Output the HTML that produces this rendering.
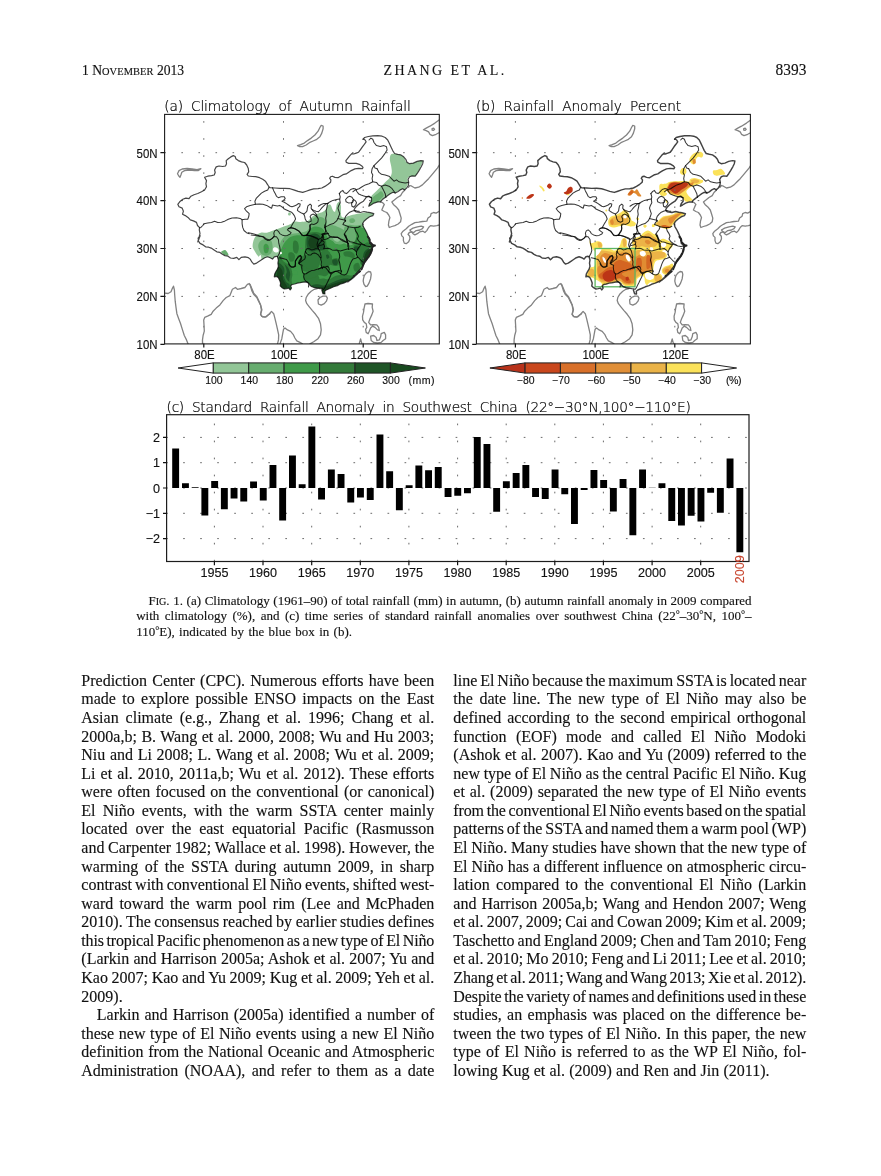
<!DOCTYPE html>
<html lang="en"><head><meta charset="utf-8">
<title>Zhang et al. 2013 - page 8393</title>
<style>
html,body{margin:0;padding:0;background:#fff;}
body{width:881px;height:1176px;position:relative;overflow:hidden;font-family:"Liberation Serif",serif;color:#111;}
.bl,.cl,.hd{position:absolute;white-space:nowrap;-webkit-text-stroke:0.14px #111;}
.bl{font-size:16.0px;line-height:20px;height:20px;}
.cl{font-size:13.0px;line-height:16px;height:16px;}
.hd{font-size:14.6px;line-height:18px;height:18px;}
.scs{font-size:0.78em;}
.dg{font-size:0.78em;vertical-align:0.18em;line-height:0;}
svg{position:absolute;left:0;top:0;}
svg text{font-family:"Liberation Sans",sans-serif;fill:#111;stroke:#111;stroke-width:0.14px;}
svg text.tt{font-family:"DejaVu Sans Light","DejaVu Sans","Liberation Sans",sans-serif;font-weight:200;font-size:13.7px;fill:#000;stroke:#000;stroke-width:0.22px;letter-spacing:-0.22px;word-spacing:4px;}
</style></head><body>
<div class="hd" id="h1" style="left:82px;top:61.71px;font-size:13.6px">1 N<span style="font-size:10.4px;letter-spacing:0.1px">OVEMBER</span> 2013</div>
<div class="hd" id="h2" style="left:383.6px;top:62.47px;font-size:14px;letter-spacing:2.4px;-webkit-text-stroke-width:0.1px">ZHANG ET AL.</div>
<div class="hd" id="h3" style="left:775.6px;top:61.30px;font-size:15.4px;transform:scaleY(1.09);transform-origin:0 14.20px">8393</div>
<svg width="881" height="1176" viewBox="0 0 881 1176">
<defs>
<filter id="blur" x="-5%" y="-5%" width="110%" height="110%"><feGaussianBlur stdDeviation="0.6"/></filter><filter id="blur2" x="-5%" y="-5%" width="110%" height="110%"><feGaussianBlur stdDeviation="0.35"/></filter>
<clipPath id="frameA"><rect x="164.6" y="114.4" width="274.7" height="229.5"/></clipPath>
<clipPath id="chinaclip"><path d="M199.6,227.7 L197.5,225.5 L196.5,222.4 L193.4,220.9 L190.3,219.9 L188.0,217.4 L185.3,215.6 L182.5,214.3 L183.4,211.2 L182.2,208.1 L179.0,206.8 L177.8,204.3 L179.7,201.8 L182.8,199.3 L185.9,198.1 L189.0,198.7 L190.9,196.2 L194.0,194.7 L197.8,193.5 L201.5,191.8 L204.6,190.0 L206.5,186.8 L205.9,183.7 L206.5,180.6 L204.6,177.2 L207.7,176.2 L211.5,175.6 L214.2,175.0 L215.2,172.5 L214.6,170.0 L216.2,166.9 L219.0,166.0 L222.7,166.5 L225.5,166.0 L226.5,163.7 L226.2,160.6 L228.3,158.7 L230.8,156.9 L233.3,155.6 L235.2,156.5 L235.8,158.7 L238.3,160.6 L241.5,161.9 L244.6,162.5 L246.7,165.0 L248.3,168.5 L248.7,171.9 L247.1,174.3 L248.3,176.0 L252.1,176.5 L255.8,176.7 L259.6,177.7 L262.7,179.3 L265.4,181.2 L267.4,184.3 L268.9,186.8 L270.0,187.7 L275.0,188.0 L280.0,188.4 L285.0,188.3 L290.0,188.7 L293.7,189.9 L298.1,191.4 L302.7,192.4 L306.2,191.2 L310.0,189.9 L313.7,188.9 L318.1,188.7 L321.8,188.0 L324.9,186.4 L328.1,184.3 L330.6,182.2 L330.9,179.9 L329.7,178.4 L330.6,176.8 L332.4,176.2 L334.9,177.4 L338.0,177.7 L340.5,176.2 L343.0,174.7 L346.2,173.9 L348.7,172.2 L351.2,170.6 L354.9,168.9 L358.6,168.4 L362.4,168.7 L363.0,167.4 L361.8,165.9 L359.3,164.3 L356.2,163.4 L352.4,163.4 L348.7,163.4 L346.2,162.2 L345.9,160.6 L347.7,158.4 L349.9,155.6 L351.8,153.7 L353.7,154.0 L356.2,153.1 L358.6,152.2 L360.5,149.7 L362.4,146.8 L364.3,144.3 L366.1,141.8 L365.1,140.0 L363.4,139.0 L363.0,139.3 L364.6,137.5 L368.4,136.5 L372.8,135.8 L377.8,135.6 L382.1,136.2 L385.2,137.5 L387.7,140.0 L389.2,143.1 L390.9,146.8 L392.7,150.6 L394.6,153.5 L397.7,154.3 L400.9,154.9 L403.7,156.8 L405.8,159.3 L407.1,162.4 L409.6,163.7 L413.3,163.1 L417.1,161.4 L420.8,160.6 L423.3,160.9 L422.7,163.7 L421.2,166.8 L419.0,170.6 L417.1,173.7 L415.2,176.2 L412.1,175.9 L409.6,176.8 L408.1,179.3 L408.7,182.4 L408.3,185.5 L406.7,188.0 L404.6,189.9 L402.7,188.7 L400.2,189.9 L397.7,191.8 L395.2,193.0 L393.0,192.2 L390.2,193.7 L387.7,195.5 L385.2,197.4 L382.7,199.3 L380.9,201.1 L380.9,201.9 L377.8,201.9 L374.0,203.1 L370.9,205.0 L368.8,206.2 L369.6,203.7 L371.5,201.2 L371.5,198.1 L369.0,196.2 L366.5,196.9 L365.3,198.7 L363.4,201.2 L360.3,203.1 L357.8,205.0 L355.3,207.5 L354.0,210.0 L355.9,211.9 L360.3,212.5 L364.0,211.5 L367.1,212.2 L370.3,212.7 L373.8,213.7 L372.8,215.6 L369.6,216.8 L366.5,219.0 L364.0,221.2 L362.5,223.7 L363.4,226.8 L365.3,230.0 L366.8,233.1 L368.4,236.8 L370.0,240.6 L369.6,243.1 L371.5,244.9 L372.8,246.2 L372.1,248.1 L371.5,249.9 L370.9,253.7 L369.0,256.8 L367.1,259.3 L365.3,261.8 L363.4,264.3 L362.1,266.8 L359.6,269.9 L357.2,272.4 L354.7,275.5 L352.2,278.0 L349.7,280.5 L347.8,282.0 L360.0,271.2 L356.8,274.4 L353.6,277.5 L350.5,280.0 L347.4,281.5 L343.6,283.1 L339.9,284.3 L337.4,285.6 L333.7,286.8 L329.9,288.5 L326.2,290.0 L324.7,291.2 L324.9,294.0 L323.0,293.7 L321.8,290.0 L322.4,288.9 L320.1,288.6 L317.4,288.1 L314.7,287.7 L312.0,286.8 L310.1,285.4 L309.2,283.6 L307.4,282.2 L305.6,281.8 L302.9,282.2 L300.2,282.7 L297.4,283.1 L294.7,284.0 L292.0,284.5 L290.6,285.9 L291.5,288.1 L290.2,289.9 L288.8,288.1 L286.5,288.6 L284.3,289.0 L282.0,287.7 L280.2,285.9 L280.6,283.1 L279.7,280.4 L278.4,277.7 L276.5,276.3 L274.3,276.8 L274.7,274.0 L276.1,271.3 L277.5,269.1 L278.4,266.3 L277.9,263.1 L278.4,260.0 L277.5,256.8 L276.5,256.3 L274.3,256.8 L272.5,259.1 L270.2,257.7 L267.5,256.8 L264.7,257.7 L262.0,259.5 L259.3,261.3 L256.6,263.1 L253.8,264.1 L252.0,262.2 L250.2,259.1 L248.4,257.7 L244.9,256.8 L241.2,257.4 L238.9,259.7 L236.8,257.4 L233.7,258.4 L230.5,258.0 L228.0,256.2 L224.9,255.6 L222.4,254.3 L219.9,252.4 L216.8,251.8 L213.7,249.7 L211.2,248.1 L208.7,247.2 L205.6,246.8 L203.1,244.9 L200.0,243.4 L198.7,241.2 L198.1,238.1 L200.2,235.6 L197.8,242.0 L199.0,237.4 L200.0,233.7 L199.3,229.9Z"/></clipPath>
<g id="coast" stroke="#828282" stroke-width="1.3"><path d="M200.9,168.7 L197.1,169.7 L192.1,169.0 L187.1,168.5 L182.2,169.0 L179.0,170.6 L177.5,173.7 L178.8,176.0 L180.0,177.2 L180.9,175.0 L181.8,172.2 L184.6,170.6 L189.6,170.0 L194.6,170.6 L198.4,170.6 L200.9,168.7"/><path d="M297.5,145.6 L300.6,144.7 L304.3,143.1 L307.5,140.6 L311.2,138.1 L314.9,135.0 L318.1,131.2 L319.9,127.5 L321.2,125.4 L323.1,126.0 L323.1,128.7 L321.8,133.1 L319.9,136.8 L316.8,139.3 L313.1,141.0 L309.3,142.7 L306.2,145.0 L302.5,146.6 L299.3,146.5 L297.5,145.6"/><path d="M439.5,119.7 L434.9,123.1 L429.9,126.2 L426.2,128.1 L423.4,129.7 L426.2,130.6 L428.6,131.9 L429.9,134.3 L432.4,135.6 L436.1,134.3 L439.5,132.5"/><path d="M432.1,128.7 L433.6,128.2 L434.6,129.4 L433.6,130.4 L432.1,130.0 L432.1,128.7"/><path d="M439.5,164.9 L437.4,168.1 L434.9,171.2 L431.8,174.9 L428.6,178.7 L425.5,181.8 L422.4,184.9 L418.7,187.2 L414.9,188.0 L411.8,186.2 L409.9,185.5 L408.4,187.2"/><path d="M404.9,190.0 L402.4,192.5 L400.6,195.6 L397.4,197.5 L394.3,200.0 L391.8,201.9 L393.4,204.4 L396.2,206.9 L398.7,210.0 L399.9,213.7 L401.2,218.1 L400.6,221.8 L398.1,224.0 L394.9,225.6 L391.8,226.5 L389.3,227.5 L388.4,225.0 L388.9,221.2 L389.9,217.5 L388.7,215.0 L386.8,212.5 L384.3,211.5 L381.8,210.0 L383.1,206.9 L384.3,204.4 L382.4,202.5 L380.6,201.9"/><path d="M439.3,211.2 L436.1,213.1 L433.6,212.5 L431.1,213.7 L430.5,216.2 L428.0,218.1 L426.8,221.2 L422.4,221.5 L418.7,222.2 L414.9,222.7 L411.8,224.3 L408.7,226.2 L406.2,228.7 L403.0,231.2 L401.2,233.7 L401.8,235.9 L403.4,237.4 L403.4,240.6 L404.3,243.1 L406.2,243.7 L408.7,241.8 L409.9,238.7 L409.7,236.2 L408.0,234.3 L409.3,232.5 L411.8,231.8 L413.0,233.7 L414.9,234.9 L417.4,233.7 L419.9,231.8 L423.0,231.2 L424.9,232.5 L426.8,230.6 L428.6,227.5 L430.5,225.6 L433.6,226.2 L436.8,225.6 L439.3,225.0"/><path d="M409.9,230.0 L413.0,228.1 L417.4,226.8 L421.2,226.2 L423.6,226.8 L422.4,228.7 L419.9,230.0 L416.2,230.6 L413.7,232.5 L411.4,231.8 L409.9,230.0"/><path d="M363.5,278.7 L364.3,275.6 L366.2,273.1 L368.5,271.5 L370.6,271.9 L371.2,274.4 L370.6,278.7 L369.0,283.1 L367.2,286.2 L365.6,286.5 L364.0,284.3 L363.2,281.2 L363.5,278.7"/><path d="M365.0,304.0 L368.1,303.5 L372.5,304.0 L372.2,307.4 L373.1,311.2 L371.8,314.9 L370.0,318.7 L368.7,322.4 L370.6,324.9 L373.7,324.7 L376.8,324.9 L378.7,327.4 L379.3,330.5 L377.5,329.9 L375.0,327.4 L372.5,326.2 L370.6,328.0 L369.3,331.2 L368.1,333.7 L366.2,332.4 L365.6,329.3 L366.8,327.4 L366.2,323.7 L364.3,322.4 L362.7,319.9 L362.5,316.2 L363.5,312.4 L364.0,308.7 L365.0,304.0"/><path d="M370.6,336.2 L373.7,335.5 L376.2,337.4 L376.8,340.5 L379.3,339.9 L380.6,336.8 L381.2,333.7 L384.3,332.4 L385.6,334.9 L385.6,338.7 L383.1,340.5 L381.2,342.4 L377.5,343.0 L373.7,342.4 L371.2,340.5 L370.6,336.2"/><path d="M359.3,343.4 L360.6,338.9 L361.8,343.4"/><path d="M165.0,293.1 L168.1,293.5 L171.0,291.8 L172.5,288.1 L173.5,286.2 L174.4,290.0 L174.7,295.0 L175.2,301.2 L176.0,307.4 L176.9,313.7 L178.7,318.7 L180.6,323.7 L182.5,329.9 L184.3,335.5 L186.5,339.9 L188.1,343.9"/><path d="M202.5,343.9 L202.5,339.9 L203.1,335.5 L204.3,331.2 L204.0,324.9 L203.7,319.9 L204.7,317.4 L208.1,315.9 L211.2,314.3 L213.1,311.2 L216.2,308.1 L219.9,304.9 L223.1,300.6 L226.2,297.5 L229.9,295.6 L231.4,291.8 L232.4,289.3 L235.5,287.5 L237.4,289.3 L241.2,288.5 L244.9,287.5 L247.4,284.3 L249.3,283.5 L250.5,286.2 L251.8,290.6 L253.6,294.3 L256.8,297.5 L258.6,301.2 L260.5,304.9 L261.4,309.9 L260.5,314.3 L261.8,316.4 L264.9,317.2 L267.4,315.6 L270.0,313.7"/><path d="M250.0,284.3 L251.9,288.7 L253.7,293.1 L256.9,296.8 L258.7,300.6 L260.6,304.9 L261.9,309.9 L260.6,314.3 L262.5,316.8 L266.2,316.8 L269.4,313.7 L271.5,311.4 L273.7,313.7 L275.0,318.7 L276.2,323.7 L277.5,329.3 L278.7,334.9 L278.5,339.9 L277.5,343.9"/><path d="M280.0,343.9 L281.8,338.7 L282.7,333.7 L283.5,329.3 L285.0,328.0 L287.5,329.9 L290.6,331.4 L293.1,334.3 L294.9,338.0 L296.8,340.9 L299.9,342.4 L302.4,343.9"/><path d="M309.9,343.9 L313.7,341.8 L318.0,338.7 L320.5,334.9 L321.2,329.9 L320.5,323.7 L318.7,318.7 L315.6,314.3 L312.4,310.6 L309.3,306.8 L306.8,303.7 L305.6,300.6 L306.2,297.5 L308.1,294.3 L311.2,291.2 L314.3,289.3 L317.4,288.5"/><path d="M318.0,300.0 L319.9,297.5 L323.0,296.2 L326.2,296.2 L327.4,298.1 L326.4,301.2 L324.3,303.7 L321.2,305.2 L318.4,304.0 L318.0,300.0"/></g>
<g id="prov"><path d="M268.9,187.5 L267.7,190.0 L264.6,191.2 L261.4,193.1 L258.9,195.6 L256.4,198.1 L254.9,201.2 L255.4,204.3 L250.2,205.6 L246.5,206.8 L244.6,208.7 L246.5,211.2 L249.2,213.7 L248.7,216.8 L247.7,219.3 L245.0,219.3 L242.1,219.7 L240.2,218.4 L236.5,217.7 L232.1,218.0 L228.3,219.3 L225.2,220.9 L221.5,222.2 L217.7,222.4 L214.6,221.2 L211.5,222.4 L207.7,223.0 L204.0,223.7 L202.8,225.5 L200.9,227.4 L199.6,227.7"/><path d="M242.1,219.7 L242.1,223.7 L242.7,227.4 L244.0,230.5 L246.5,232.7 L249.2,233.7"/><path d="M255.2,204.3 L259.3,204.1 L262.9,204.3 L266.6,205.4 L269.7,207.2 L271.6,208.3 L272.5,205.0 L274.7,205.4 L277.5,205.9 L279.7,205.4 L282.5,207.2 L284.3,209.1 L286.5,210.0 L289.3,211.3 L291.5,212.2 L293.3,214.1 L294.7,216.3 L295.6,219.0 L294.3,221.3 L292.9,223.6 L291.5,225.9 L290.6,227.7 L288.4,228.6 L287.4,229.9 L289.3,231.3 L291.1,232.7 L290.2,234.0 L287.4,235.4 L284.7,235.8 L282.0,234.9 L279.7,233.6 L278.4,231.3 L276.5,229.9 L274.7,230.9 L273.8,233.1 L274.3,235.8 L272.5,238.1 L270.2,239.9 L267.5,240.4 L265.2,239.0 L262.9,236.8 L259.3,235.8 L255.7,234.5 L252.0,233.6 L248.4,232.7"/><path d="M272.5,187.7 L273.8,190.9 L275.2,193.6 L276.5,196.3 L278.4,197.7 L281.1,196.8 L284.3,196.8 L285.2,198.6 L283.4,200.4 L282.0,201.3 L284.3,202.2 L286.5,203.6 L288.4,205.0 L290.2,206.3 L292.0,206.8 L294.3,205.9 L296.5,205.0 L298.3,203.6 L300.2,204.1 L299.7,206.3 L297.9,208.1 L297.4,210.4 L299.3,211.8 L301.5,213.1 L303.8,214.1 L305.6,212.7 L307.0,210.9 L307.4,208.1 L307.9,205.9 L310.1,204.1 L311.5,205.4 L311.1,208.1 L312.0,209.5 L313.8,210.4 L316.1,211.3 L318.3,211.8 L320.1,210.0 L322.0,207.7 L323.8,205.9 L325.6,204.1 L328.4,203.2"/><path d="M303.8,214.1 L304.7,216.3 L305.2,219.0 L306.5,221.3 L308.8,222.2 L311.1,221.3 L311.1,219.0 L310.1,216.8 L311.1,215.0 L312.9,214.1 L315.1,215.0 L317.0,216.8 L318.3,219.0 L317.9,221.8 L316.1,223.6 L313.8,224.5 L311.5,224.0 L309.7,224.9 L310.1,227.2 L310.0,229.9 L308.3,232.2 L307.4,234.5 L306.5,235.4"/><path d="M312.0,209.5 L313.3,211.3 L315.1,212.7 L316.5,214.5 L317.0,216.8"/><path d="M290.6,227.7 L292.9,228.1 L295.6,229.0 L298.3,230.9 L300.6,233.1 L302.0,235.4 L304.7,235.8 L307.4,234.9 L310.1,235.8 L312.9,236.8 L315.6,238.1 L318.3,239.5 L321.0,238.1 L322.9,235.4 L324.7,234.0 L328.4,233.6"/><path d="M339.3,193.6 L341.1,191.4 L342.9,190.4 L344.3,192.7 L346.5,193.6 L348.4,191.8 L350.6,189.5 L353.4,188.6 L355.6,189.1 L357.0,191.8 L358.8,194.1 L361.1,195.0 L363.8,195.9 L366.5,196.8 L369.3,196.8 L371.5,197.7"/><path d="M345.6,199.5 L347.5,197.3 L349.7,196.3 L352.0,197.3 L353.4,199.5 L352.9,201.8 L351.1,202.7 L348.4,202.9 L346.1,201.8 L345.6,199.5"/><path d="M353.4,199.5 L355.6,200.9 L356.5,202.7 L355.6,205.0 L353.8,207.2 L352.0,206.3 L351.5,203.6 L352.9,201.8"/><path d="M339.3,193.6 L340.2,196.8 L339.7,199.5 L340.2,202.7 L338.8,205.4 L337.9,208.1 L338.8,210.9 L339.7,213.6 L338.8,216.3 L337.9,218.6 L339.7,219.0 L342.0,219.5 L344.3,220.0 L345.6,220.9"/><path d="M345.6,220.9 L344.7,219.0 L345.6,216.3 L347.5,214.1 L349.7,212.2 L352.5,210.9 L355.2,210.4 L357.4,211.3 L359.3,211.3"/><path d="M327.5,203.6 L327.0,207.2 L326.1,210.9 L326.6,214.5 L325.7,218.1 L326.1,221.8 L325.2,225.4 L324.8,227.2"/><path d="M324.8,227.2 L327.5,225.9 L330.2,224.5 L333.4,223.6 L336.6,220.9 L337.9,218.6"/><path d="M318.4,206.3 L321.1,204.5 L323.8,203.6 L327.5,203.4 L330.2,201.8 L332.9,200.4 L336.6,199.5 L339.7,199.1"/><path d="M345.6,220.9 L343.8,222.7 L342.9,224.5 L345.6,225.4 L348.4,226.8 L351.1,227.2 L354.7,227.7 L358.4,227.2 L360.2,226.3"/><path d="M324.8,227.2 L325.7,230.9 L324.8,233.6 L322.0,234.5 L323.8,237.2 L322.9,239.9 L321.1,241.7 L319.3,243.6 L318.4,245.4"/><path d="M348.4,226.8 L347.5,229.5 L345.6,231.8 L344.3,234.5 L345.6,236.3 L346.5,239.0 L347.5,242.7 L347.9,247.0"/><path d="M354.7,227.7 L355.6,230.9 L357.4,233.6 L358.4,236.3 L357.4,239.0 L359.3,241.7 L362.0,243.6 L364.7,244.9"/><path d="M322.9,239.9 L326.6,239.0 L330.2,237.2 L333.8,236.8 L337.5,237.2 L340.2,238.6 L342.9,239.9 L345.6,241.7 L347.5,242.7"/><path d="M356.5,254.5 L357.9,257.2 L355.6,258.2 L352.9,259.1 L351.5,261.3 L350.2,264.1 L349.3,266.8 L348.4,269.5 L347.5,272.2 L346.5,274.0 L344.3,275.0 L342.0,274.5 L340.6,273.6"/><path d="M337.9,250.9 L339.3,253.6 L339.7,256.8 L338.8,260.0 L339.7,263.1 L340.2,266.3 L340.6,269.5 L341.6,271.3 L340.6,273.6"/><path d="M348.4,249.3 L349.7,249.1 L352.5,248.6 L354.7,250.0 L356.5,251.8 L356.5,254.5"/><path d="M348.4,243.4 L348.8,246.4 L348.4,249.3"/><path d="M345.6,235.0 L346.5,237.7 L347.9,240.4 L350.2,241.8 L352.9,242.3 L355.6,243.2 L358.4,244.1 L361.1,244.1 L359.7,246.4 L357.9,248.6 L356.5,251.8"/><path d="M361.1,244.1 L363.8,245.0 L366.5,245.9 L369.3,246.4 L372.0,245.9"/><path d="M357.9,257.2 L360.2,259.5 L362.0,261.3 L363.8,262.7"/><path d="M340.6,273.6 L337.9,271.8 L335.2,271.3 L332.9,272.7 L331.1,274.0 L329.3,272.7 L327.9,270.4 L326.1,268.1 L323.8,266.8 L321.1,267.7 L318.4,269.1"/><path d="M331.1,274.0 L330.2,276.8 L328.8,279.5 L327.5,282.2 L326.1,284.9 L324.8,287.7 L323.4,289.5"/><path d="M251.1,235.0 L255.7,235.5 L260.2,236.4 L263.8,236.8 L266.6,239.1 L269.3,240.0 L272.0,238.6 L274.3,236.4 L276.5,236.8 L278.4,239.5 L278.8,243.2 L279.7,246.8 L280.2,250.4 L279.3,253.6 L277.5,256.8"/><path d="M279.7,257.7 L282.0,258.2 L284.7,259.1 L286.5,259.5 L288.4,262.2 L289.7,265.0 L291.1,266.8 L293.3,267.2 L295.6,266.3 L295.2,263.6 L295.6,260.9 L297.0,258.6 L298.3,256.3 L300.6,255.4 L301.5,257.2 L301.1,260.0 L299.7,262.2 L299.3,264.1"/><path d="M369.0,140.0 L370.9,138.1 L372.8,139.3 L374.0,142.5 L376.5,145.6 L380.2,146.5 L384.0,145.6 L386.5,146.8 L387.1,150.0 L385.2,153.1 L383.4,155.6 L381.5,158.1 L379.0,160.6 L376.5,163.1 L374.0,165.6 L375.0,168.1 L377.1,168.7"/><path d="M374.0,165.6 L372.1,168.7 L371.5,172.4 L372.8,174.9 L372.1,178.7 L372.8,181.8 L376.5,182.4 L378.4,184.9 L381.5,186.2 L383.4,189.9 L385.2,193.7 L385.9,197.4"/><path d="M377.1,168.7 L379.0,172.4 L381.5,174.3 L385.2,174.9 L389.0,176.2 L391.5,178.7 L394.0,181.2 L396.5,179.9 L399.0,181.8 L402.1,182.4 L405.2,183.0 L408.3,182.4"/><path d="M381.5,186.2 L385.2,184.9 L389.0,186.2 L392.1,188.7 L395.2,193.0"/><path d="M372.8,181.8 L369.0,183.7 L365.3,184.9 L362.1,186.8 L359.0,188.7 L355.3,189.9 L352.8,191.8"/><path d="M288.4,228.4 L291.1,227.7 L293.8,228.4 L296.6,229.8 L299.3,231.1 L301.0,233.9 L303.4,235.6 L306.4,235.2 L308.8,235.6 L311.6,235.9 L314.3,236.9 L317.0,237.9 L318.4,239.3 L317.7,242.0 L317.0,244.8 L317.7,246.8 L318.4,248.8"/><path d="M306.4,235.2 L308.2,233.2 L309.5,231.5 L310.2,228.4 L309.9,226.4 L310.5,225.0"/><path d="M324.8,225.0 L325.2,226.4 L325.5,229.1 L326.5,231.8 L327.9,233.5 L325.9,233.9 L323.8,233.5 L321.8,233.9 L323.1,235.6 L322.5,237.3 L321.8,239.0 L321.1,240.3 L322.5,241.0 L324.2,242.0 L323.8,244.1 L321.8,245.1 L319.7,245.4 L318.4,246.1 L317.7,246.8"/><path d="M323.8,248.8 L325.9,248.5 L327.9,248.2 L329.9,248.8 L332.0,249.9 L334.7,250.2 L336.8,249.9 L338.1,250.5 L340.2,250.9 L342.9,250.2 L345.6,249.5 L348.4,248.8"/><path d="M323.8,244.1 L324.5,246.1 L323.8,248.8"/><path d="M329.3,235.9 L332.0,236.9 L334.7,237.6 L337.4,237.3 L339.1,238.3 L340.8,239.6 L342.9,241.0 L344.9,241.7 L347.0,242.0 L348.4,243.4"/><path d="M327.9,233.5 L329.3,235.9"/><path d="M344.2,233.9 L344.9,235.9 L346.3,237.9 L347.0,240.7 L347.7,242.0"/><path d="M318.4,248.8 L319.7,250.9 L320.4,253.6 L321.1,256.3 L320.7,259.1 L321.4,261.8 L321.1,264.5 L321.8,267.2 L322.5,268.6"/><path d="M305.4,251.6 L306.1,249.5 L307.5,248.5 L309.5,248.8 L311.6,249.9 L313.6,249.5 L315.6,248.8 L318.4,248.8"/><path d="M305.4,251.6 L306.8,253.6 L308.8,255.0 L310.9,255.0 L312.2,253.6 L314.3,252.9 L316.3,253.6 L318.4,255.0 L319.7,257.0 L321.0,257.7"/><path d="M288.4,263.8 L289.8,265.9 L291.8,267.2 L294.5,266.5 L295.6,263.8 L295.2,261.1 L296.6,259.1 L298.6,257.0 L300.3,255.6 L301.3,257.0 L300.7,259.1 L299.3,261.1 L298.6,263.1 L300.0,264.5 L302.0,265.2 L301.7,267.2 L302.0,269.9 L302.7,272.7 L304.1,274.0 L306.1,273.7 L308.8,272.0 L311.6,270.6 L314.3,270.3 L317.0,269.3 L319.7,268.6 L322.5,267.6 L325.2,266.9 L327.2,266.2 L328.6,267.2 L329.3,269.3 L328.6,271.3 L330.6,272.7 L333.3,272.0 L336.1,271.3 L338.8,270.6 L341.5,271.3"/><path d="M298.6,263.1 L300.7,262.1 L302.7,260.4 L304.7,259.1 L305.4,257.0 L304.7,254.3 L305.4,251.6"/><path d="M304.1,274.0 L303.7,276.8 L304.4,279.5 L306.1,281.5 L308.2,282.9 L308.8,284.9 L308.5,287.0"/></g>
<g id="china"><path d="M199.6,227.7 L197.5,225.5 L196.5,222.4 L193.4,220.9 L190.3,219.9 L188.0,217.4 L185.3,215.6 L182.5,214.3 L183.4,211.2 L182.2,208.1 L179.0,206.8 L177.8,204.3 L179.7,201.8 L182.8,199.3 L185.9,198.1 L189.0,198.7 L190.9,196.2 L194.0,194.7 L197.8,193.5 L201.5,191.8 L204.6,190.0 L206.5,186.8 L205.9,183.7 L206.5,180.6 L204.6,177.2 L207.7,176.2 L211.5,175.6 L214.2,175.0 L215.2,172.5 L214.6,170.0 L216.2,166.9 L219.0,166.0 L222.7,166.5 L225.5,166.0 L226.5,163.7 L226.2,160.6 L228.3,158.7 L230.8,156.9 L233.3,155.6 L235.2,156.5 L235.8,158.7 L238.3,160.6 L241.5,161.9 L244.6,162.5 L246.7,165.0 L248.3,168.5 L248.7,171.9 L247.1,174.3 L248.3,176.0 L252.1,176.5 L255.8,176.7 L259.6,177.7 L262.7,179.3 L265.4,181.2 L267.4,184.3 L268.9,186.8 L270.0,187.7 L275.0,188.0 L280.0,188.4 L285.0,188.3 L290.0,188.7 L293.7,189.9 L298.1,191.4 L302.7,192.4 L306.2,191.2 L310.0,189.9 L313.7,188.9 L318.1,188.7 L321.8,188.0 L324.9,186.4 L328.1,184.3 L330.6,182.2 L330.9,179.9 L329.7,178.4 L330.6,176.8 L332.4,176.2 L334.9,177.4 L338.0,177.7 L340.5,176.2 L343.0,174.7 L346.2,173.9 L348.7,172.2 L351.2,170.6 L354.9,168.9 L358.6,168.4 L362.4,168.7 L363.0,167.4 L361.8,165.9 L359.3,164.3 L356.2,163.4 L352.4,163.4 L348.7,163.4 L346.2,162.2 L345.9,160.6 L347.7,158.4 L349.9,155.6 L351.8,153.7 L353.7,154.0 L356.2,153.1 L358.6,152.2 L360.5,149.7 L362.4,146.8 L364.3,144.3 L366.1,141.8 L365.1,140.0 L363.4,139.0 L363.0,139.3 L364.6,137.5 L368.4,136.5 L372.8,135.8 L377.8,135.6 L382.1,136.2 L385.2,137.5 L387.7,140.0 L389.2,143.1 L390.9,146.8 L392.7,150.6 L394.6,153.5 L397.7,154.3 L400.9,154.9 L403.7,156.8 L405.8,159.3 L407.1,162.4 L409.6,163.7 L413.3,163.1 L417.1,161.4 L420.8,160.6 L423.3,160.9 L422.7,163.7 L421.2,166.8 L419.0,170.6 L417.1,173.7 L415.2,176.2 L412.1,175.9 L409.6,176.8 L408.1,179.3 L408.7,182.4 L408.3,185.5 L406.7,188.0 L404.6,189.9 L402.7,188.7 L400.2,189.9 L397.7,191.8 L395.2,193.0 L393.0,192.2 L390.2,193.7 L387.7,195.5 L385.2,197.4 L382.7,199.3 L380.9,201.1 L380.9,201.9 L377.8,201.9 L374.0,203.1 L370.9,205.0 L368.8,206.2 L369.6,203.7 L371.5,201.2 L371.5,198.1 L369.0,196.2 L366.5,196.9 L365.3,198.7 L363.4,201.2 L360.3,203.1 L357.8,205.0 L355.3,207.5 L354.0,210.0 L355.9,211.9 L360.3,212.5 L364.0,211.5 L367.1,212.2 L370.3,212.7 L373.8,213.7 L372.8,215.6 L369.6,216.8 L366.5,219.0 L364.0,221.2 L362.5,223.7 L363.4,226.8 L365.3,230.0 L366.8,233.1 L368.4,236.8 L370.0,240.6 L369.6,243.1 L371.5,244.9 L372.8,246.2 L372.1,248.1 L371.5,249.9 L370.9,253.7 L369.0,256.8 L367.1,259.3 L365.3,261.8 L363.4,264.3 L362.1,266.8 L359.6,269.9 L357.2,272.4 L354.7,275.5 L352.2,278.0 L349.7,280.5 L347.8,282.0 L360.0,271.2 L356.8,274.4 L353.6,277.5 L350.5,280.0 L347.4,281.5 L343.6,283.1 L339.9,284.3 L337.4,285.6 L333.7,286.8 L329.9,288.5 L326.2,290.0 L324.7,291.2 L324.9,294.0 L323.0,293.7 L321.8,290.0 L322.4,288.9 L320.1,288.6 L317.4,288.1 L314.7,287.7 L312.0,286.8 L310.1,285.4 L309.2,283.6 L307.4,282.2 L305.6,281.8 L302.9,282.2 L300.2,282.7 L297.4,283.1 L294.7,284.0 L292.0,284.5 L290.6,285.9 L291.5,288.1 L290.2,289.9 L288.8,288.1 L286.5,288.6 L284.3,289.0 L282.0,287.7 L280.2,285.9 L280.6,283.1 L279.7,280.4 L278.4,277.7 L276.5,276.3 L274.3,276.8 L274.7,274.0 L276.1,271.3 L277.5,269.1 L278.4,266.3 L277.9,263.1 L278.4,260.0 L277.5,256.8 L276.5,256.3 L274.3,256.8 L272.5,259.1 L270.2,257.7 L267.5,256.8 L264.7,257.7 L262.0,259.5 L259.3,261.3 L256.6,263.1 L253.8,264.1 L252.0,262.2 L250.2,259.1 L248.4,257.7 L244.9,256.8 L241.2,257.4 L238.9,259.7 L236.8,257.4 L233.7,258.4 L230.5,258.0 L228.0,256.2 L224.9,255.6 L222.4,254.3 L219.9,252.4 L216.8,251.8 L213.7,249.7 L211.2,248.1 L208.7,247.2 L205.6,246.8 L203.1,244.9 L200.0,243.4 L198.7,241.2 L198.1,238.1 L200.2,235.6 L197.8,242.0 L199.0,237.4 L200.0,233.7 L199.3,229.9Z"/></g>
</defs>
<g id="panel-a">
<g clip-path="url(#frameA)">
<g clip-path="url(#chinaclip)"><g filter="url(#blur)"><path d="M252.7,247.0C252.4,245.1 253.0,242.5 253.5,240.6C254.0,238.8 254.7,237.2 255.9,235.9C257.1,234.5 258.8,233.2 260.7,232.7C262.5,232.1 265.2,232.9 267.0,232.7C268.9,232.4 269.9,231.7 271.8,231.1C273.6,230.4 276.0,229.5 278.1,228.7C280.3,227.9 282.4,227.1 284.5,226.3C286.6,225.5 289.3,224.7 290.9,223.9C292.4,223.1 292.4,221.9 294.0,221.5C295.6,221.2 298.3,221.9 300.4,221.9C302.5,221.8 305.2,221.7 306.7,221.2C308.3,220.8 308.9,220.0 309.9,219.2C311.0,218.3 311.8,216.9 313.1,216.0C314.4,215.1 316.3,214.3 317.9,213.6C319.5,212.9 321.2,212.8 322.6,212.0C324.1,211.2 325.8,209.9 326.6,208.8C327.4,207.8 326.7,206.3 327.4,205.7C328.1,205.0 329.7,204.1 330.6,204.9C331.5,205.7 332.2,209.4 333.0,210.4C333.8,211.5 334.7,212.3 335.3,211.2C336.0,210.2 336.3,205.7 336.9,204.1C337.6,202.5 338.7,201.4 339.3,201.7C340.0,202.0 340.6,203.9 340.9,205.7C341.2,207.4 340.8,210.2 340.9,212.0C341.0,213.9 341.0,215.9 341.7,216.8C342.4,217.7 343.8,217.7 344.9,217.6C345.9,217.4 346.5,216.5 348.1,216.0C349.6,215.5 352.3,214.8 354.4,214.4C356.5,213.9 358.7,213.6 360.8,213.3C362.9,212.9 365.0,212.5 367.1,212.3C369.2,212.2 370.8,212.3 373.5,212.3C376.1,212.3 381.4,195.7 383.0,212.3C384.6,229.0 403.3,295.5 383.0,312.1C362.8,328.8 281.7,320.9 261.5,312.1C241.2,303.4 262.0,269.0 261.5,259.7C260.9,250.4 259.3,257.8 258.3,256.5C257.2,255.2 256.0,253.3 255.1,251.7C254.2,250.2 253.0,248.8 252.7,247.0Z" fill="#93c698"/><path d="M288.1,213.7C288.2,213.2 288.9,212.3 289.3,212.2C289.8,212.2 290.8,213.0 291.0,213.5C291.1,214.0 290.6,215.1 290.2,215.3C289.8,215.6 288.8,215.5 288.5,215.2C288.1,215.0 287.9,214.2 288.1,213.7Z" fill="#93c698"/><path d="M390.6,154.9C391.2,153.9 392.4,153.7 393.9,153.7C395.5,153.7 398.3,154.2 399.9,154.7C401.6,155.2 402.5,155.5 403.7,156.8C404.8,158.1 405.2,161.4 406.8,162.4C408.4,163.5 410.9,163.4 413.0,163.1C415.2,162.8 418.2,161.0 419.9,160.6C421.6,160.2 422.9,159.5 423.0,160.6C423.1,161.6 421.8,164.2 420.5,166.8C419.3,169.4 417.4,174.5 415.5,176.2C413.7,177.8 410.6,176.3 409.3,176.8C407.9,177.3 407.6,178.4 407.4,179.3C407.2,180.2 408.2,181.3 408.0,182.4C407.9,183.6 407.5,184.8 406.8,186.2C406.1,187.5 405.0,189.8 403.7,190.5C402.3,191.3 400.3,190.0 398.7,190.5C397.0,191.1 395.4,192.9 393.7,193.7C392.0,194.4 390.4,194.1 388.7,194.9C387.0,195.7 385.4,197.3 383.7,198.6C382.0,200.0 380.2,201.4 378.7,203.0C377.2,204.7 376.6,207.7 375.0,208.6C373.3,209.6 369.8,209.7 368.7,208.6C367.7,207.5 368.3,204.1 368.7,202.0C369.1,199.9 370.0,198.0 371.2,196.2C372.5,194.3 374.5,192.8 376.2,191.2C377.9,189.5 379.5,187.8 381.2,186.2C382.9,184.5 384.7,182.6 386.2,181.2C387.7,179.7 389.0,178.9 389.9,177.4C390.9,176.0 391.6,174.3 391.8,172.4C392.0,170.6 391.5,168.3 391.2,166.2C390.9,164.1 390.0,161.8 389.9,159.9C389.8,158.1 389.9,156.0 390.6,154.9Z" fill="#93c698"/><path d="M368.7,202.0C369.2,200.6 371.0,198.8 372.5,197.4C373.9,196.0 376.0,194.7 377.5,193.7C378.9,192.6 380.2,190.9 381.2,191.2C382.2,191.4 383.7,193.7 383.7,194.9C383.7,196.2 382.2,197.4 381.2,198.6C380.2,199.9 378.7,201.1 377.5,202.4C376.2,203.6 375.1,205.5 373.7,206.1C372.4,206.8 370.2,206.8 369.3,206.1C368.5,205.5 368.2,203.5 368.7,202.0Z" fill="#69ae70"/><path d="M221.2,251.8C221.6,251.2 223.9,249.8 224.9,249.9C226.0,250.0 226.8,251.6 227.4,252.4C228.0,253.3 228.8,254.7 228.4,255.2C228.0,255.7 225.9,255.7 224.9,255.4C223.9,255.1 223.1,254.0 222.4,253.4C221.8,252.8 220.8,252.4 221.2,251.8Z" fill="#69ae70"/><path d="M258.3,247.0C258.0,244.9 258.7,242.7 259.9,241.4C261.1,240.1 263.6,239.2 265.4,239.0C267.3,238.9 269.8,239.3 271.0,240.6C272.2,241.9 272.6,244.9 272.6,247.0C272.6,249.1 272.0,251.9 271.0,253.3C269.9,254.8 267.8,255.6 266.2,255.7C264.6,255.8 262.8,255.6 261.5,254.1C260.1,252.7 258.5,249.1 258.3,247.0Z" fill="#69ae70"/><path d="M279.7,254.9C279.7,244.3 279.3,250.7 279.4,248.6C279.5,246.4 279.8,244.1 280.5,242.2C281.2,240.4 282.5,238.6 283.7,237.4C284.9,236.2 286.0,235.7 287.7,235.1C289.4,234.4 291.9,233.9 294.0,233.5C296.1,233.1 298.3,233.1 300.4,232.7C302.5,232.3 305.2,232.1 306.7,231.1C308.3,230.0 309.1,228.0 309.9,226.3C310.7,224.6 310.7,222.2 311.5,220.8C312.3,219.3 313.4,218.2 314.7,217.6C316.0,216.9 317.9,216.6 319.5,216.8C321.0,216.9 323.0,217.3 324.2,218.4C325.4,219.4 326.1,221.5 326.6,223.1C327.1,224.7 326.4,226.6 327.1,227.9C327.7,229.2 328.9,230.3 330.6,231.1C332.2,231.9 334.8,232.7 336.9,232.7C339.1,232.7 342.0,232.1 343.3,231.1C344.6,230.0 343.8,227.4 344.9,226.3C345.9,225.3 347.8,224.9 349.6,224.7C351.5,224.6 354.2,225.5 356.0,225.5C357.9,225.5 358.9,225.1 360.8,224.7C362.6,224.3 365.0,223.1 367.1,223.1C369.2,223.1 370.8,224.5 373.5,224.7C376.1,225.0 381.4,210.2 383.0,224.7C384.6,239.3 400.2,297.6 383.0,312.1C365.8,326.7 296.9,321.7 279.7,312.1C262.5,302.6 279.8,265.5 279.7,254.9Z" fill="#69ae70"/><path d="M349.6,219.2C350.3,218.6 352.7,218.0 353.6,218.4C354.5,218.7 355.5,220.4 355.2,221.2C354.9,222.0 353.0,223.0 352.0,223.1C351.1,223.2 350.0,222.5 349.6,221.9C349.3,221.2 349.0,219.7 349.6,219.2Z" fill="#69ae70"/><path d="M263.8,245.4C264.2,244.3 265.4,243.7 266.2,243.8C267.0,243.9 268.3,244.9 268.6,246.2C268.9,247.5 268.8,250.6 268.3,251.7C267.8,252.9 266.2,253.6 265.4,253.3C264.7,253.1 264.1,251.5 263.8,250.2C263.6,248.8 263.4,246.4 263.8,245.4Z" fill="#3f9a49"/><path d="M280.5,256.5C280.7,245.9 280.9,250.9 281.6,248.6C282.3,246.2 283.5,244.1 284.8,242.2C286.1,240.4 287.8,238.6 289.6,237.4C291.4,236.3 293.3,235.9 295.6,235.5C297.9,235.1 301.4,235.7 303.6,235.1C305.7,234.4 307.0,233.1 308.3,231.9C309.7,230.7 310.2,228.8 311.5,227.9C312.8,227.0 314.4,226.5 316.3,226.6C318.1,226.8 321.0,227.4 322.6,228.7C324.2,230.0 324.8,232.5 325.8,234.3C326.9,236.0 327.4,237.8 329.0,239.0C330.6,240.2 333.0,240.8 335.3,241.4C337.7,242.1 340.9,242.3 343.3,243.0C345.7,243.7 347.9,245.4 349.6,245.4C351.4,245.4 352.7,244.9 353.6,243.0C354.5,241.1 354.4,236.6 355.2,234.3C356.0,231.9 356.7,229.6 358.4,228.7C360.1,227.8 363.7,228.0 365.5,228.7C367.4,229.4 366.6,232.0 369.5,232.7C372.4,233.3 380.8,219.4 383.0,232.7C385.3,245.9 400.1,298.9 383.0,312.1C365.9,325.4 297.6,321.4 280.5,312.1C263.4,302.9 280.3,267.1 280.5,256.5Z" fill="#3f9a49"/><path d="M333.0,239.8C333.4,239.0 336.3,238.6 337.7,238.7C339.2,238.8 341.3,239.8 341.7,240.6C342.1,241.4 341.2,242.9 340.1,243.5C339.1,244.0 336.5,244.4 335.3,243.8C334.2,243.2 332.6,240.7 333.0,239.8Z" fill="#69ae70"/><path d="M293.2,242.2C293.6,240.6 294.8,240.4 295.6,240.6C296.4,240.9 297.6,242.2 298.0,243.8C298.4,245.4 298.4,248.6 298.0,250.2C297.6,251.7 296.4,253.3 295.6,253.3C294.8,253.3 293.6,252.0 293.2,250.2C292.8,248.3 292.8,243.8 293.2,242.2Z" fill="#2f7937"/><path d="M288.5,253.3C289.0,252.0 291.4,252.0 292.4,252.5C293.5,253.1 294.7,255.1 294.8,256.5C295.0,258.0 294.2,260.6 293.2,261.3C292.3,261.9 290.1,261.8 289.3,260.5C288.5,259.2 287.9,254.7 288.5,253.3Z" fill="#2f7937"/><path d="M305.9,237.4C306.7,235.3 308.2,233.3 309.9,232.7C311.6,232.0 314.2,232.9 316.3,233.5C318.4,234.0 321.0,234.7 322.6,235.9C324.2,237.0 325.1,239.0 325.8,240.6C326.5,242.2 326.1,244.1 326.6,245.4C327.1,246.7 329.0,247.5 329.0,248.6C329.0,249.6 327.9,251.3 326.6,251.7C325.3,252.1 322.8,250.7 321.0,250.9C319.3,251.2 317.9,252.7 316.3,253.3C314.7,254.0 313.1,255.2 311.5,254.9C309.9,254.7 307.8,253.3 306.7,251.7C305.7,250.2 305.3,247.8 305.2,245.4C305.0,243.0 305.2,239.6 305.9,237.4Z" fill="#2f7937"/><path d="M324.2,254.9C324.6,253.7 327.7,253.1 329.0,253.3C330.3,253.6 331.9,255.2 332.2,256.5C332.4,257.8 331.5,260.6 330.6,261.3C329.7,261.9 327.7,261.5 326.6,260.5C325.5,259.4 323.8,256.1 324.2,254.9Z" fill="#2f7937"/><path d="M332.2,259.7C332.8,258.6 335.7,257.7 336.9,258.1C338.1,258.5 339.3,260.9 339.3,262.1C339.3,263.3 338.0,264.9 336.9,265.2C335.9,265.6 333.8,265.4 333.0,264.5C332.2,263.5 331.5,260.7 332.2,259.7Z" fill="#2f7937"/><path d="M300.4,262.9C301.3,261.4 304.4,260.5 306.7,259.7C309.1,258.9 312.6,257.8 314.7,258.1C316.8,258.4 318.9,259.7 319.5,261.3C320.0,262.9 319.2,266.0 317.9,267.6C316.5,269.2 313.6,270.1 311.5,270.8C309.4,271.5 306.9,272.0 305.2,271.6C303.4,271.2 302.0,269.9 301.2,268.4C300.4,267.0 299.5,264.3 300.4,262.9Z" fill="#2f7937"/><path d="M308.3,282.7C309.4,281.1 313.9,280.7 316.3,280.0C318.7,279.3 320.5,278.6 322.6,278.4C324.8,278.3 326.9,279.5 329.0,279.1C331.1,278.7 333.2,276.6 335.3,275.9C337.5,275.2 339.3,275.0 341.7,274.9C344.1,274.9 347.5,275.3 349.6,275.6C351.8,275.8 354.2,274.5 354.4,276.4C354.7,278.2 354.4,283.7 351.2,286.7C348.1,289.7 340.6,293.1 335.3,294.6C330.0,296.2 323.7,297.0 319.5,296.2C315.2,295.4 311.8,292.1 309.9,289.9C308.1,287.6 307.3,284.4 308.3,282.7Z" fill="#2f7937"/><path d="M303.6,274.0C304.5,272.8 307.8,272.4 309.9,272.4C312.0,272.4 314.7,272.9 316.3,274.0C317.9,275.0 319.7,277.2 319.5,278.8C319.2,280.3 316.5,282.7 314.7,283.5C312.8,284.3 310.1,284.2 308.3,283.5C306.6,282.9 305.2,281.1 304.4,279.6C303.6,278.0 302.6,275.2 303.6,274.0Z" fill="#2f7937"/><path d="M357.6,248.6C358.3,247.5 360.8,246.4 362.4,246.2C364.0,245.9 365.4,246.6 367.1,247.0C368.8,247.4 371.8,247.0 372.7,248.6C373.6,250.2 373.6,254.1 372.7,256.5C371.8,258.9 368.7,261.1 367.1,262.9C365.5,264.6 364.3,267.1 363.2,266.8C362.0,266.6 360.2,263.3 360.0,261.3C359.7,259.3 361.8,256.4 361.6,254.9C361.3,253.5 359.1,253.6 358.4,252.5C357.7,251.5 356.9,249.6 357.6,248.6Z" fill="#2f7937"/><path d="M354.4,264.5C355.0,263.4 357.5,262.3 358.4,262.9C359.3,263.4 360.1,266.2 360.0,267.6C359.8,269.1 358.5,271.3 357.6,271.6C356.7,271.9 355.3,270.4 354.7,269.2C354.2,268.0 353.8,265.5 354.4,264.5Z" fill="#2f7937"/><path d="M272.6,276.4C272.4,274.1 274.1,271.3 275.0,268.4C275.8,265.5 276.5,261.1 277.5,258.9C278.5,256.7 279.8,255.0 280.7,255.2C281.6,255.5 281.8,259.1 282.9,260.5C284.0,261.9 285.8,262.6 287.0,263.7C288.3,264.7 289.6,265.1 290.5,266.8C291.4,268.6 292.3,271.7 292.4,274.0C292.6,276.2 291.6,278.0 291.6,280.3C291.6,282.7 293.1,286.2 292.4,288.3C291.8,290.4 289.5,292.8 287.7,293.1C285.8,293.3 283.3,291.7 281.3,289.9C279.3,288.0 277.2,284.2 275.8,281.9C274.3,279.7 272.7,278.6 272.6,276.4Z" fill="#2f7937"/><path d="M349.6,237.4C350.2,236.2 353.1,235.6 354.4,235.9C355.7,236.1 357.3,237.7 357.6,239.0C357.9,240.4 357.1,243.1 356.0,243.8C354.9,244.5 352.3,244.1 351.2,243.0C350.2,241.9 349.1,238.6 349.6,237.4Z" fill="#2f7937"/><path d="M307.5,239.0C308.2,237.3 310.1,235.6 311.5,235.1C313.0,234.5 315.2,234.9 316.3,235.9C317.3,236.8 318.1,239.0 317.9,240.6C317.6,242.2 315.9,244.2 314.7,245.4C313.5,246.6 311.9,247.8 310.7,247.8C309.5,247.8 308.1,246.8 307.5,245.4C307.0,243.9 306.9,240.8 307.5,239.0Z" fill="#1f5729"/><path d="M365.5,248.6C366.3,247.5 369.6,247.8 370.6,248.6C371.7,249.4 372.3,251.3 371.9,253.3C371.4,255.3 369.2,258.7 367.9,260.5C366.7,262.3 365.1,264.3 364.3,264.1C363.4,264.0 362.3,261.2 362.7,259.7C363.0,258.2 365.9,256.8 366.3,254.9C366.8,253.1 364.8,249.6 365.5,248.6Z" fill="#1f5729"/><path d="M273.4,276.4C273.1,274.3 274.8,271.9 275.6,269.2C276.4,266.6 277.3,262.5 278.1,260.5C279.0,258.5 279.9,257.0 280.5,257.3C281.2,257.6 281.2,260.7 282.1,262.1C283.0,263.4 284.7,264.2 285.8,265.2C286.9,266.3 287.9,267.0 288.6,268.4C289.4,269.9 290.1,272.0 290.2,274.0C290.3,276.0 289.3,278.1 289.3,280.3C289.3,282.6 290.6,285.6 290.2,287.5C289.8,289.4 288.2,291.3 286.9,291.5C285.5,291.6 283.7,289.9 282.1,288.3C280.5,286.7 278.8,283.9 277.3,281.9C275.9,279.9 273.7,278.5 273.4,276.4Z" fill="#1f5729"/><path d="M310.7,286.7C311.8,285.3 315.6,285.2 317.9,284.8C320.1,284.4 322.0,284.6 324.2,284.3C326.5,284.1 329.0,283.9 331.4,283.2C333.8,282.5 336.3,281.0 338.5,280.3C340.8,279.7 342.8,279.1 344.9,279.1C347.0,279.1 350.4,278.5 351.2,280.3C352.0,282.1 353.4,287.2 349.6,289.9C345.9,292.5 335.3,295.7 329.0,296.2C322.6,296.8 314.6,294.6 311.5,293.1C308.5,291.5 309.7,288.1 310.7,286.7Z" fill="#1f5729"/><path d="M333.8,259.7C334.0,258.9 336.0,258.9 336.6,259.4C337.3,259.8 337.9,261.8 337.7,262.5C337.5,263.3 336.0,264.6 335.3,264.1C334.7,263.7 333.5,260.5 333.8,259.7Z" fill="#1f5729"/><path d="M325.4,228.6C326.0,227.1 328.1,225.6 329.9,225.2C331.8,224.8 334.5,225.6 336.8,226.4C339.0,227.1 341.9,228.4 343.6,229.8C345.3,231.1 346.5,232.6 347.0,234.3C347.4,236.0 347.0,238.5 346.4,240.0C345.8,241.5 344.8,242.6 343.6,243.4C342.3,244.1 340.5,244.7 339.0,244.5C337.5,244.3 336.0,243.2 334.5,242.2C333.0,241.3 331.3,240.2 329.9,238.8C328.6,237.5 327.3,236.0 326.5,234.3C325.8,232.6 324.8,230.1 325.4,228.6Z" fill="#69ae70"/><path d="M333.3,237.7C333.9,237.1 336.8,236.9 337.9,237.1C339.0,237.4 340.2,238.6 340.2,239.4C340.2,240.2 338.8,241.5 337.9,241.7C336.9,241.9 335.2,241.2 334.5,240.5C333.7,239.9 332.8,238.3 333.3,237.7Z" fill="#93c698"/><path d="M344.7,230.9C345.4,229.6 347.7,228.6 349.2,228.6C350.8,228.6 352.6,229.8 353.8,230.9C354.9,232.0 355.9,233.7 356.0,235.4C356.2,237.1 355.9,239.8 354.9,241.1C354.0,242.4 351.7,243.4 350.4,243.4C349.1,243.4 347.8,242.2 347.0,241.1C346.1,240.0 345.6,238.3 345.3,236.6C344.9,234.9 344.0,232.2 344.7,230.9Z" fill="#69ae70"/><path d="M354.9,227.5C355.6,226.5 357.9,226.0 359.5,226.4C361.0,226.7 362.9,228.2 364.0,229.8C365.1,231.3 365.7,233.7 366.3,235.4C366.8,237.1 367.8,238.8 367.4,240.0C367.0,241.1 365.3,242.1 364.0,242.2C362.7,242.4 360.6,242.1 359.5,241.1C358.3,240.2 357.8,238.1 357.2,236.6C356.5,235.1 355.9,233.5 355.5,232.0C355.1,230.5 354.3,228.4 354.9,227.5Z" fill="#3f9a49"/><path d="M298.7,260.4C299.3,259.1 301.1,256.8 302.7,255.9C304.3,254.9 306.5,255.1 308.4,254.7C310.3,254.3 312.3,254.0 314.1,253.6C315.8,253.2 318.1,251.7 319.2,252.5C320.2,253.2 320.2,256.2 320.3,258.1C320.4,260.0 320.2,262.1 319.7,263.8C319.3,265.5 318.6,267.4 317.5,268.3C316.3,269.3 314.6,269.5 312.9,269.5C311.2,269.5 308.9,268.9 307.2,268.3C305.5,267.8 304.0,266.8 302.7,266.1C301.4,265.3 300.0,264.8 299.3,263.8C298.6,262.9 298.2,261.7 298.7,260.4Z" fill="#2f7937"/><path d="M320.9,252.5C321.5,250.4 323.9,250.2 325.4,250.2C326.9,250.2 329.1,251.1 329.9,252.5C330.8,253.8 329.9,257.0 330.5,258.1C331.1,259.3 332.1,258.9 333.3,259.3C334.6,259.6 337.0,259.5 337.9,260.4C338.7,261.3 339.0,264.0 338.5,264.9C337.9,265.9 335.9,266.1 334.5,266.1C333.1,266.1 331.1,264.6 329.9,264.9C328.8,265.3 328.8,267.8 327.7,268.3C326.5,268.9 324.2,269.3 323.1,268.3C322.1,267.4 321.8,265.3 321.4,262.7C321.1,260.0 320.2,254.5 320.9,252.5Z" fill="#2f7937"/><path d="M305.0,274.0C305.6,273.0 307.6,271.4 309.5,270.6C311.4,269.9 314.2,269.9 316.3,269.5C318.4,269.1 320.1,268.3 322.0,268.3C323.9,268.3 326.5,268.7 327.7,269.5C328.8,270.2 329.2,271.8 328.8,272.9C328.4,274.0 326.9,275.9 325.4,276.3C323.9,276.7 321.6,275.0 319.7,275.2C317.8,275.3 315.9,276.9 314.1,277.4C312.2,278.0 309.8,278.7 308.4,278.6C307.0,278.5 306.1,277.6 305.5,276.9C305.0,276.1 304.3,275.1 305.0,274.0Z" fill="#2f7937"/><path d="M309.5,284.2C310.1,283.5 312.5,283.5 314.1,283.1C315.6,282.7 317.1,282.0 318.6,282.0C320.1,282.0 321.6,283.1 323.1,283.1C324.6,283.1 326.3,282.5 327.7,282.0C329.0,281.4 329.9,280.5 331.1,279.7C332.2,278.9 332.8,278.0 334.5,277.4C336.2,276.9 339.0,276.7 341.3,276.3C343.6,275.9 346.2,274.8 348.1,275.2C350.0,275.5 351.9,276.9 352.6,278.6C353.4,280.3 354.2,283.1 352.6,285.4C351.1,287.6 347.3,290.3 343.6,292.2C339.8,294.1 334.5,296.3 329.9,296.7C325.4,297.1 319.5,296.0 316.3,294.5C313.1,292.9 311.8,289.3 310.6,287.6C309.5,285.9 308.9,285.0 309.5,284.2Z" fill="#2f7937"/><path d="M353.8,264.9C354.3,264.4 356.4,265.3 357.2,266.1C357.9,266.8 358.5,268.5 358.3,269.5C358.1,270.4 356.8,271.8 356.0,271.8C355.3,271.8 354.2,270.6 353.8,269.5C353.4,268.3 353.2,265.5 353.8,264.9Z" fill="#2f7937"/><path d="M343.6,252.5C344.1,251.7 346.6,251.3 348.1,251.3C349.6,251.3 351.5,251.7 352.6,252.5C353.8,253.2 354.7,254.9 354.9,255.9C355.1,256.8 354.7,257.9 353.8,258.1C352.8,258.3 350.8,257.4 349.2,257.0C347.7,256.6 345.6,256.6 344.7,255.9C343.8,255.1 343.0,253.2 343.6,252.5Z" fill="#2f7937"/><path d="M353.8,245.6C354.4,244.5 356.8,243.6 358.3,243.4C359.8,243.2 361.2,244.7 362.9,244.5C364.6,244.3 366.6,241.7 368.5,242.2C370.4,242.8 373.3,246.0 374.2,247.9C375.2,249.8 375.2,251.5 374.2,253.6C373.3,255.7 370.4,258.5 368.5,260.4C366.6,262.3 364.2,264.4 362.9,264.9C361.5,265.5 361.2,264.8 360.6,263.8C360.0,262.9 360.0,261.0 359.5,259.3C358.9,257.6 358.0,255.1 357.2,253.6C356.3,252.1 354.9,251.5 354.3,250.2C353.8,248.9 353.1,246.8 353.8,245.6Z" fill="#2f7937"/><path d="M293.6,244.5C293.9,242.8 295.1,241.3 295.9,241.1C296.6,240.9 297.7,242.1 298.2,243.4C298.6,244.7 298.9,247.3 298.7,249.1C298.5,250.8 297.8,253.2 297.0,253.6C296.3,254.0 294.8,252.8 294.2,251.3C293.6,249.8 293.3,246.2 293.6,244.5Z" fill="#2f7937"/><path d="M290.2,253.6C290.8,252.8 292.9,253.0 293.6,253.6C294.4,254.2 294.9,255.9 294.8,257.0C294.6,258.1 293.2,260.2 292.5,260.4C291.7,260.6 290.6,259.3 290.2,258.1C289.8,257.0 289.6,254.3 290.2,253.6Z" fill="#2f7937"/><path d="M306.7,236.6C307.2,235.1 309.0,233.9 310.6,233.2C312.3,232.4 314.4,231.8 316.3,232.0C318.2,232.2 320.8,233.2 322.0,234.3C323.2,235.4 323.1,237.3 323.7,238.8C324.3,240.3 324.9,241.9 325.4,243.4C325.9,244.9 326.9,246.8 326.5,247.9C326.2,249.1 324.3,249.6 323.1,250.2C322.0,250.8 321.1,250.8 319.7,251.3C318.4,251.9 316.7,253.3 315.2,253.6C313.7,253.9 312.1,253.4 310.6,253.0C309.2,252.6 307.6,252.4 306.7,251.3C305.7,250.3 304.9,248.3 305.0,246.8C305.1,245.3 307.0,243.9 307.2,242.2C307.5,240.5 306.1,238.1 306.7,236.6Z" fill="#2f7937"/><path d="M277.7,260.4C278.7,255.1 282.1,261.5 283.4,262.7C284.7,263.8 285.1,265.7 285.7,267.2C286.2,268.7 286.8,270.2 286.8,271.8C286.8,273.3 285.5,274.8 285.7,276.3C285.9,277.8 287.0,279.7 287.9,280.8C288.9,282.0 290.9,281.8 291.4,283.1C291.8,284.4 291.5,286.9 290.8,288.8C290.0,290.7 289.0,293.5 286.8,294.5C284.6,295.4 279.2,300.1 277.7,294.5C276.2,288.8 276.8,265.7 277.7,260.4Z" fill="#2f7937"/><path d="M307.2,237.1C308.0,235.3 309.8,234.9 311.2,234.3C312.6,233.7 314.3,233.4 315.8,233.7C317.2,234.0 318.8,234.9 319.7,236.0C320.7,237.1 320.8,239.2 321.4,240.5C322.1,241.9 323.0,242.7 323.7,243.9C324.4,245.2 325.8,246.9 325.4,247.9C325.0,249.0 322.8,249.8 321.4,250.2C320.0,250.6 318.3,250.0 316.9,250.2C315.5,250.4 314.2,251.5 312.9,251.5C311.6,251.5 310.0,251.3 308.9,250.2C307.9,249.1 307.0,247.3 306.7,245.1C306.4,242.9 306.5,238.9 307.2,237.1Z" fill="#1f5729"/><path d="M332.2,260.4C332.6,259.6 334.7,259.1 335.6,259.3C336.6,259.5 337.7,260.6 337.9,261.5C338.1,262.5 337.5,264.5 336.8,264.9C336.0,265.4 334.1,265.1 333.3,264.4C332.6,263.6 331.8,261.3 332.2,260.4Z" fill="#1f5729"/><path d="M326.0,255.3C326.2,254.6 327.7,254.3 328.2,254.7C328.8,255.1 329.6,256.9 329.4,257.6C329.2,258.2 327.7,259.1 327.1,258.7C326.5,258.3 325.8,256.0 326.0,255.3Z" fill="#1f5729"/><path d="M364.0,252.5C364.8,251.1 365.7,250.0 367.4,249.1C369.1,248.1 373.1,246.2 374.2,246.8C375.3,247.3 375.0,250.6 374.2,252.5C373.5,254.3 371.2,256.4 369.7,258.1C368.2,259.8 366.4,261.5 365.1,262.7C363.9,263.8 363.0,265.1 362.3,264.9C361.6,264.8 361.1,262.9 361.2,261.5C361.3,260.2 362.4,258.5 362.9,257.0C363.3,255.5 363.2,253.8 364.0,252.5Z" fill="#1f5729"/><path d="M311.8,285.9C311.8,284.2 315.6,284.3 317.5,284.2C319.3,284.1 321.4,285.4 323.1,285.4C324.8,285.4 326.0,284.8 327.7,284.2C329.4,283.7 331.5,282.7 333.3,282.0C335.2,281.2 336.9,280.3 339.0,279.7C341.1,279.1 343.8,278.5 345.8,278.6C347.9,278.7 350.8,278.8 351.5,280.3C352.3,281.8 352.1,285.7 350.4,287.6C348.7,289.6 345.1,290.7 341.3,292.2C337.5,293.7 331.6,296.3 327.7,296.7C323.7,297.1 320.1,296.3 317.5,294.5C314.8,292.7 311.8,287.6 311.8,285.9Z" fill="#1f5729"/><path d="M277.7,264.9C278.6,260.6 281.7,265.1 282.8,266.1C284.0,267.0 284.4,268.9 284.5,270.6C284.7,272.3 283.7,274.4 284.0,276.3C284.3,278.2 285.3,280.6 286.2,282.0C287.2,283.4 289.1,283.1 289.6,284.8C290.2,286.5 291.6,291.0 289.6,292.2C287.7,293.4 279.7,296.7 277.7,292.2C275.7,287.6 276.9,269.3 277.7,264.9Z" fill="#1f5729"/><path d="M353.8,247.3C354.2,246.7 356.2,246.1 357.2,246.2C358.1,246.3 359.3,247.3 359.5,247.9C359.6,248.6 359.1,249.8 358.3,250.2C357.6,250.6 355.7,250.7 354.9,250.2C354.2,249.7 353.4,248.0 353.8,247.3Z" fill="#1f5729"/><path d="M309.3,238.8C310.0,237.7 311.7,236.8 312.9,236.6C314.1,236.4 315.6,236.8 316.3,237.7C317.1,238.6 316.9,241.0 317.5,242.2C318.0,243.5 319.5,244.1 319.7,245.1C319.9,246.0 319.5,247.3 318.6,247.9C317.6,248.5 315.4,248.5 314.1,248.5C312.7,248.5 311.6,248.8 310.6,247.9C309.7,247.1 308.6,244.9 308.4,243.4C308.1,241.9 308.5,240.0 309.3,238.8Z" fill="#16421d"/><path d="M277.7,268.3C278.4,264.9 280.9,268.5 281.7,269.5C282.6,270.4 282.6,272.5 282.8,274.0C283.0,275.5 282.5,277.1 282.8,278.6C283.2,280.1 284.4,281.6 285.1,283.1C285.8,284.6 288.0,286.5 286.8,287.6C285.6,288.8 279.2,293.1 277.7,289.9C276.2,286.7 277.1,271.8 277.7,268.3Z" fill="#16421d"/><path d="M366.3,251.9C367.4,250.2 369.5,249.5 370.8,249.1C372.1,248.6 374.2,247.9 374.2,249.1C374.2,250.2 372.0,254.0 370.8,255.9C369.6,257.8 367.9,259.3 366.8,260.4C365.8,261.5 365.0,262.9 364.6,262.7C364.1,262.5 363.7,261.1 364.0,259.3C364.3,257.5 365.1,253.6 366.3,251.9Z" fill="#16421d"/><path d="M317.5,287.6C318.6,286.5 322.9,287.1 325.4,286.5C327.9,285.9 329.9,285.0 332.2,284.2C334.5,283.5 336.8,282.6 339.0,282.0C341.3,281.4 343.9,280.6 345.8,280.6C347.7,280.6 350.8,280.4 350.4,282.0C350.0,283.5 347.2,287.6 343.6,289.9C340.0,292.2 333.0,295.0 328.8,295.6C324.6,296.2 320.5,294.6 318.6,293.3C316.7,292.0 316.3,288.8 317.5,287.6Z" fill="#16421d"/><path d="M273.1,248.6C273.4,248.0 274.4,247.2 275.3,247.3C276.1,247.3 277.6,248.2 278.1,248.9C278.7,249.6 278.9,250.8 278.5,251.4C278.1,252.0 276.6,252.5 275.8,252.4C274.9,252.3 273.8,251.6 273.4,250.9C272.9,250.3 272.7,249.2 273.1,248.6Z" fill="#ffffff"/><path d="M279.7,252.5C279.9,252.1 280.9,251.6 281.3,251.7C281.7,251.9 282.1,253.2 282.0,253.6C281.8,254.1 280.7,254.5 280.4,254.3C280.0,254.1 279.6,253.0 279.7,252.5Z" fill="#ffffff"/><path d="M292.4,271.6C292.8,270.9 294.7,269.9 295.6,270.0C296.5,270.1 297.9,271.6 298.0,272.4C298.1,273.2 296.7,274.5 295.9,274.8C295.1,275.0 293.8,274.5 293.2,274.0C292.7,273.5 292.0,272.3 292.4,271.6Z" fill="#3f9a49"/></g></g>
<g stroke="#6a6a6a" stroke-width="1.0" stroke-dasharray="1.6 15.46" fill="none"><line x1="164.3" y1="296.4" x2="439.3" y2="296.4"/><line x1="164.3" y1="248.5" x2="439.3" y2="248.5"/><line x1="164.3" y1="200.6" x2="439.3" y2="200.6"/><line x1="164.3" y1="152.7" x2="439.3" y2="152.7"/><line x1="203.8" y1="344.5" x2="203.8" y2="114.4"/><line x1="283.5" y1="344.5" x2="283.5" y2="114.4"/><line x1="363.2" y1="344.5" x2="363.2" y2="114.4"/></g>
<g transform="translate(0,0)" fill="none" stroke-linejoin="round" stroke-linecap="round" filter="url(#blur2)"><use href="#coast"/><use href="#prov" stroke="#000" stroke-opacity="0.78" stroke-width="1.05"/><use href="#china" stroke="#000" stroke-opacity="0.72" stroke-width="1.2"/><path d="M367.9,236.8 L369.7,239.1 L369.3,241.4 L371.5,243.6 L372.9,245.2 L374.9,245.5 L372.7,246.6 L372.2,248.6 L371.8,250.6 L371.1,252.3 L370.0,254.3 L368.8,256.4 L367.4,257.9 L365.8,260.1 L364.3,262.2 L363.4,264.5" stroke="#222" stroke-width="2.0" stroke-dasharray="2.2 1.3 1.2 1.8 3 1.5"/><path d="M363.3,265.0 L362.4,268.1 L360.6,270.9 L358.4,272.7 L356.1,274.5 L353.8,276.0" stroke="#222" stroke-width="1.7" stroke-dasharray="2.2 1.6 1.2 2.1"/></g>
</g>
<rect x="164.6" y="114.4" width="274.7" height="229.5" fill="none" stroke="#1c1c1c" stroke-width="1.1"/><text transform="translate(157.6,349.1) scale(0.88,1)" text-anchor="end" style="font-size:13.0px">10N</text><text transform="translate(157.6,301.2) scale(0.88,1)" text-anchor="end" style="font-size:13.0px">20N</text><text transform="translate(157.6,253.3) scale(0.88,1)" text-anchor="end" style="font-size:13.0px">30N</text><text transform="translate(157.6,205.4) scale(0.88,1)" text-anchor="end" style="font-size:13.0px">40N</text><text transform="translate(157.6,157.5) scale(0.88,1)" text-anchor="end" style="font-size:13.0px">50N</text><text transform="translate(204.5,358.9) scale(0.88,1)" text-anchor="middle" style="font-size:13.0px">80E</text><text transform="translate(284.2,358.9) scale(0.88,1)" text-anchor="middle" style="font-size:13.0px">100E</text><text transform="translate(363.9,358.9) scale(0.88,1)" text-anchor="middle" style="font-size:13.0px">120E</text><path d="M160.4,344.3h4.2M160.4,296.4h4.2M160.4,248.5h4.2M160.4,200.6h4.2M160.4,152.7h4.2M203.8,343.9v3.6M283.5,343.9v3.6M363.2,343.9v3.6" stroke="#161616" stroke-width="1.2" fill="none"/><text x="164.3" y="110.9" class="tt" textLength="246.2" lengthAdjust="spacing">(a) Climatology of Autumn Rainfall</text>
<path d="M213.3,362.9L178.1,368.0L213.3,373.1Z" fill="#ffffff" stroke="#222" stroke-width="1"/><rect x="213.3" y="362.9" width="35.4" height="10.2" fill="#92c697" stroke="#222" stroke-width="1"/><rect x="248.7" y="362.9" width="35.4" height="10.2" fill="#67ad6f" stroke="#222" stroke-width="1"/><rect x="284.1" y="362.9" width="35.4" height="10.2" fill="#3f9a49" stroke="#222" stroke-width="1"/><rect x="319.6" y="362.9" width="35.4" height="10.2" fill="#337a3a" stroke="#222" stroke-width="1"/><rect x="355.0" y="362.9" width="35.4" height="10.2" fill="#1f5527" stroke="#222" stroke-width="1"/><path d="M390.4,362.9L425.4,368.0L390.4,373.1Z" fill="#184a1f" stroke="#222" stroke-width="1"/><text transform="translate(213.9,384.0) scale(0.97,1)" text-anchor="middle" style="font-size:10.8px">100</text><text transform="translate(249.3,384.0) scale(0.97,1)" text-anchor="middle" style="font-size:10.8px">140</text><text transform="translate(284.7,384.0) scale(0.97,1)" text-anchor="middle" style="font-size:10.8px">180</text><text transform="translate(320.2,384.0) scale(0.97,1)" text-anchor="middle" style="font-size:10.8px">220</text><text transform="translate(355.6,384.0) scale(0.97,1)" text-anchor="middle" style="font-size:10.8px">260</text><text transform="translate(391.0,384.0) scale(0.97,1)" text-anchor="middle" style="font-size:10.8px">300</text><text x="408.5" y="383.5" style="font-size:10.6px" textLength="26" lengthAdjust="spacing">(mm)</text>
</g>
<g id="panel-b">
<g transform="translate(311.6,0)"><g clip-path="url(#frameA)">
<g clip-path="url(#chinaclip)"><g filter="url(#blur)"><path d="M277.9,239.4C278.0,239.1 278.4,242.6 279.1,243.1C279.9,243.6 281.2,242.8 282.3,242.5C283.3,242.2 284.2,241.3 285.4,241.2C286.5,241.1 288.2,241.2 289.1,241.9C290.1,242.5 290.7,243.9 291.0,245.0C291.3,246.1 289.8,247.9 291.0,248.5C292.1,249.1 295.9,248.4 297.9,248.7C299.8,249.1 301.5,250.6 302.9,250.6C304.2,250.6 305.0,249.7 306.0,248.7C306.9,247.8 307.7,246.5 308.5,245.0C309.2,243.4 309.5,240.5 310.3,239.4C311.2,238.2 312.6,237.8 313.5,238.1C314.3,238.4 315.0,239.9 315.3,241.2C315.6,242.6 314.8,245.0 315.3,246.2C315.9,247.4 317.5,248.6 318.5,248.5C319.4,248.4 320.6,246.7 321.0,245.6C321.3,244.5 319.9,243.1 320.3,241.9C320.7,240.6 322.1,239.1 323.5,238.1C324.8,237.2 327.0,237.2 328.4,236.2C329.9,235.3 330.8,233.4 332.2,232.5C333.5,231.6 335.0,230.4 336.6,230.6C338.1,230.8 340.1,233.0 341.6,233.7C343.0,234.5 344.3,234.1 345.3,235.0C346.3,235.9 346.4,238.6 347.8,239.4C349.2,240.1 351.5,238.9 353.4,239.4C355.3,239.8 357.7,240.9 359.0,241.9C360.3,242.8 361.3,243.8 361.3,245.0C361.3,246.1 360.0,247.8 359.0,248.7C358.0,249.7 356.3,250.4 355.3,250.6C354.3,250.8 353.6,249.9 352.8,250.0C352.0,250.1 350.1,250.7 350.3,251.2C350.5,251.7 353.2,252.3 354.0,253.1C354.9,253.9 355.5,255.3 355.3,256.2C355.1,257.2 354.0,258.1 352.8,258.7C351.5,259.3 349.3,259.5 347.8,260.0C346.3,260.4 345.0,260.2 344.1,261.2C343.1,262.3 342.6,264.5 342.2,266.2C341.8,267.9 341.9,270.1 341.6,271.2C341.2,272.3 340.0,272.6 340.3,273.1C340.6,273.6 342.2,274.3 343.4,274.3C344.7,274.4 346.6,273.1 347.8,273.5C349.0,273.8 350.1,275.1 350.5,276.2C351.0,277.3 351.0,278.8 350.5,279.9C350.1,281.1 349.1,282.5 347.8,283.1C346.5,283.6 344.4,283.2 342.8,283.1C341.2,283.0 339.7,282.1 338.4,282.4C337.2,282.8 336.1,284.9 335.3,284.9C334.5,284.9 333.9,283.6 333.4,282.4C333.0,281.3 333.2,279.2 332.8,278.1C332.4,276.9 331.7,275.8 330.9,275.6C330.2,275.4 329.4,276.2 328.4,276.8C327.5,277.4 326.0,278.0 325.3,279.3C324.6,280.7 325.4,283.8 324.3,284.9C323.3,286.1 320.9,286.3 319.1,286.4C317.3,286.6 314.9,286.4 313.5,285.9C312.0,285.5 311.2,284.5 310.3,283.7C309.5,282.9 309.6,281.4 308.5,281.2C307.3,281.0 305.2,282.0 303.5,282.4C301.7,282.9 299.5,283.6 297.9,283.9C296.2,284.3 294.8,284.0 293.5,284.4C292.1,284.9 291.0,286.3 289.7,286.4C288.5,286.6 286.9,286.1 286.0,285.2C285.1,284.3 284.9,282.4 284.1,281.2C283.4,280.0 282.7,278.7 281.6,278.1C280.6,277.4 278.9,277.5 277.9,277.2C276.8,276.9 275.6,277.1 275.4,276.2C275.1,275.3 275.8,273.3 276.4,271.8C277.0,270.4 278.0,268.4 279.1,267.5C280.2,266.5 282.0,267.5 282.9,266.2C283.7,265.0 283.9,262.2 284.1,260.0C284.3,257.8 284.6,255.0 284.1,253.1C283.6,251.2 281.9,250.1 281.0,248.7C280.1,247.4 279.0,246.5 278.5,245.0C278.0,243.4 277.8,239.7 277.9,239.4Z" fill="#fbe25a"/><path d="M350.3,270.0C350.6,268.9 351.5,267.7 352.8,266.8C354.0,266.0 356.4,265.5 357.8,265.0C359.1,264.4 360.2,263.3 360.9,263.7C361.6,264.1 361.9,266.1 361.8,267.5C361.7,268.8 361.1,270.7 360.3,271.8C359.5,273.0 358.3,273.8 357.2,274.3C356.0,274.8 354.5,274.9 353.4,274.7C352.4,274.5 351.4,273.9 350.9,273.1C350.4,272.3 350.0,271.0 350.3,270.0Z" fill="#fbe25a"/><path d="M296.6,221.2C296.8,219.6 297.9,217.8 299.1,216.8C300.4,215.8 302.4,215.7 304.1,214.9C305.8,214.2 307.6,213.3 309.1,212.4C310.6,211.6 311.6,209.9 312.8,209.9C314.1,209.9 315.5,211.2 316.6,212.4C317.6,213.7 318.5,216.0 319.1,217.4C319.7,218.9 319.5,220.2 320.3,221.2C321.2,222.1 323.7,222.3 324.1,223.0C324.5,223.8 323.9,225.0 322.8,225.5C321.8,226.1 319.5,226.3 317.8,226.2C316.2,226.1 314.5,224.9 312.8,224.9C311.2,224.9 309.5,225.7 307.8,226.2C306.2,226.6 304.5,227.4 302.9,227.4C301.2,227.4 298.9,227.2 297.9,226.2C296.8,225.1 296.4,222.7 296.6,221.2Z" fill="#fbe25a"/><path d="M295.7,210.6C295.7,210.8 295.6,211.1 295.4,211.3C295.3,211.4 295.0,211.6 294.7,211.6C294.5,211.6 294.2,211.4 294.0,211.3C293.9,211.1 293.7,210.8 293.7,210.6C293.7,210.3 293.9,210.0 294.0,209.8C294.2,209.7 294.5,209.6 294.7,209.6C295.0,209.6 295.3,209.7 295.4,209.8C295.6,210.0 295.7,210.3 295.7,210.6Z" fill="#fbe25a"/><path d="M327.2,218.7C327.2,219.0 327.0,219.3 326.8,219.6C326.6,219.8 326.2,219.9 326.0,219.9C325.7,219.9 325.3,219.8 325.1,219.6C324.9,219.3 324.7,219.0 324.7,218.7C324.7,218.4 324.9,218.0 325.1,217.8C325.3,217.6 325.7,217.4 326.0,217.4C326.2,217.4 326.6,217.6 326.8,217.8C327.0,218.0 327.2,218.4 327.2,218.7Z" fill="#fbe25a"/><path d="M334.9,225.9C334.9,226.3 334.8,226.7 334.5,227.0C334.3,227.2 333.8,227.4 333.4,227.4C333.1,227.4 332.6,227.2 332.4,227.0C332.1,226.7 331.9,226.3 331.9,225.9C331.9,225.6 332.1,225.1 332.4,224.9C332.6,224.6 333.1,224.4 333.4,224.4C333.8,224.4 334.3,224.6 334.5,224.9C334.8,225.1 334.9,225.6 334.9,225.9Z" fill="#fbe25a"/><path d="M343.3,225.5C343.3,225.9 343.1,226.3 342.9,226.6C342.6,226.8 342.2,227.0 341.8,227.0C341.5,227.0 341.0,226.8 340.7,226.6C340.5,226.3 340.3,225.9 340.3,225.5C340.3,225.2 340.5,224.7 340.7,224.5C341.0,224.2 341.5,224.0 341.8,224.0C342.2,224.0 342.6,224.2 342.9,224.5C343.1,224.7 343.3,225.2 343.3,225.5Z" fill="#fbe25a"/><path d="M347.5,191.8C347.8,190.9 349.6,190.3 350.2,189.1C350.8,187.9 350.3,185.4 351.1,184.5C351.8,183.6 353.5,184.1 354.7,183.6C355.9,183.2 355.9,182.3 358.4,181.8C360.8,181.4 366.1,181.0 369.3,180.9C372.4,180.8 375.3,181.5 377.4,181.4C379.5,181.2 379.7,180.2 382.0,180.0C384.2,179.8 389.7,179.5 391.0,180.0C392.4,180.5 391.0,182.0 390.1,182.7C389.2,183.5 387.1,184.0 385.6,184.5C384.1,185.1 382.4,185.3 381.1,185.9C379.7,186.5 378.5,187.2 377.4,188.2C376.4,189.2 374.7,190.4 374.7,191.8C374.7,193.2 376.4,195.0 377.4,196.3C378.5,197.7 380.9,199.1 381.1,200.0C381.2,200.8 379.4,201.0 378.3,201.3C377.3,201.6 375.8,202.1 374.7,201.8C373.6,201.5 372.9,200.3 372.0,199.5C371.1,198.8 370.3,197.9 369.3,197.3C368.2,196.6 367.0,196.3 365.6,195.9C364.3,195.5 362.4,195.4 361.1,195.0C359.7,194.6 358.5,194.3 357.4,193.6C356.4,192.9 355.5,191.0 354.7,190.9C354.0,190.7 353.5,192.0 352.9,192.7C352.3,193.5 351.8,195.1 351.1,195.4C350.3,195.7 349.0,195.1 348.4,194.5C347.8,193.9 347.2,192.7 347.5,191.8Z" fill="#fbe25a"/><path d="M342.9,224.5C342.9,223.8 344.7,222.7 345.6,221.8C346.5,220.9 347.3,220.0 348.4,219.0C349.4,218.1 350.6,216.9 352.0,216.3C353.4,215.7 355.0,215.7 356.5,215.4C358.1,215.1 359.7,215.0 361.1,214.5C362.4,214.1 363.3,213.0 364.7,212.7C366.1,212.4 367.9,212.2 369.3,212.5C370.6,212.8 372.9,213.9 372.9,214.5C372.9,215.1 370.5,215.6 369.3,216.3C368.0,217.1 366.7,218.1 365.6,219.0C364.6,220.0 363.7,221.2 362.9,222.2C362.1,223.3 361.4,224.4 360.6,225.4C359.9,226.4 359.3,227.5 358.4,228.1C357.4,228.7 356.1,229.1 354.7,229.0C353.4,229.0 351.7,228.2 350.2,227.7C348.7,227.1 346.9,226.4 345.6,225.9C344.4,225.3 342.9,225.2 342.9,224.5Z" fill="#fbe25a"/><path d="M334.8,226.3C334.8,226.7 334.7,227.1 334.4,227.3C334.2,227.6 333.7,227.8 333.4,227.8C333.0,227.8 332.6,227.6 332.4,227.3C332.1,227.1 331.9,226.7 331.9,226.3C331.9,226.0 332.1,225.5 332.4,225.3C332.6,225.0 333.0,224.9 333.4,224.9C333.7,224.9 334.2,225.0 334.4,225.3C334.7,225.5 334.8,226.0 334.8,226.3Z" fill="#fbe25a"/><path d="M342.8,225.9C342.8,226.2 342.7,226.5 342.5,226.8C342.2,227.0 341.9,227.1 341.6,227.1C341.3,227.1 340.9,227.0 340.7,226.8C340.4,226.5 340.3,226.2 340.3,225.9C340.3,225.6 340.4,225.2 340.7,225.0C340.9,224.7 341.3,224.6 341.6,224.6C341.9,224.6 342.2,224.7 342.5,225.0C342.7,225.2 342.8,225.6 342.8,225.9Z" fill="#fbe25a"/><path d="M327.4,219.0C327.4,219.2 327.3,219.5 327.2,219.6C327.0,219.8 326.8,219.9 326.6,219.9C326.4,219.9 326.1,219.8 326.0,219.6C325.9,219.5 325.8,219.2 325.8,219.0C325.8,218.9 325.9,218.6 326.0,218.5C326.1,218.3 326.4,218.2 326.6,218.2C326.8,218.2 327.0,218.3 327.2,218.5C327.3,218.6 327.4,218.9 327.4,219.0Z" fill="#fbe25a"/><path d="M318.4,220.9C318.9,220.1 320.7,220.9 321.6,221.3C322.5,221.8 323.6,222.8 323.8,223.6C324.1,224.3 323.5,225.4 322.9,225.9C322.3,226.3 321.0,226.3 320.2,226.3C319.5,226.3 318.7,226.8 318.4,225.9C318.1,224.9 317.9,221.6 318.4,220.9Z" fill="#fbe25a"/><path d="M349.3,239.9C349.7,238.7 351.8,238.7 352.9,239.0C354.0,239.3 355.3,240.7 355.6,241.7C355.9,242.8 355.6,244.6 354.7,245.4C353.8,246.1 351.1,247.2 350.2,246.3C349.3,245.4 348.8,241.1 349.3,239.9Z" fill="#fbe25a"/><path d="M353.8,199.5C354.0,199.1 355.3,200.0 355.6,200.4C356.0,200.9 356.2,201.9 356.1,202.2C355.9,202.6 355.1,203.2 354.7,202.7C354.3,202.2 353.7,199.9 353.8,199.5Z" fill="#fbe25a"/><path d="M377.9,158.7C378.2,157.6 379.3,156.0 380.3,154.9C381.4,153.9 382.6,153.0 384.1,152.5C385.6,151.9 387.8,151.5 389.1,151.8C390.3,152.1 391.4,153.4 391.6,154.3C391.8,155.3 391.2,157.0 390.3,157.4C389.5,157.9 387.6,156.4 386.6,156.8C385.6,157.2 384.6,158.8 384.1,159.9C383.6,161.1 384.0,163.0 383.5,163.7C383.0,164.4 381.8,164.6 381.0,164.3C380.1,164.0 379.0,162.8 378.5,161.8C378.0,160.9 377.5,159.8 377.9,158.7Z" fill="#fbe25a"/><path d="M368.5,171.2C368.8,170.2 370.0,168.5 371.0,168.1C371.9,167.6 373.5,168.0 374.1,168.7C374.7,169.4 375.0,171.4 374.7,172.4C374.4,173.5 373.2,174.7 372.2,174.9C371.3,175.1 369.7,174.3 369.1,173.7C368.5,173.1 368.2,172.1 368.5,171.2Z" fill="#fbe25a"/><path d="M401.6,170.6C402.2,169.9 404.1,170.2 405.3,169.9C406.6,169.6 407.9,168.5 409.1,168.7C410.2,168.9 411.5,170.2 412.2,171.2C412.9,172.1 414.0,173.7 413.4,174.3C412.9,174.9 410.6,174.7 409.1,174.9C407.5,175.1 405.3,175.8 404.1,175.6C402.8,175.3 402.0,174.5 401.6,173.7C401.2,172.8 401.0,171.2 401.6,170.6Z" fill="#fbe25a"/><path d="M377.9,179.9C378.3,179.0 381.0,178.0 382.8,178.0C384.7,178.0 387.6,179.3 389.1,179.9C390.5,180.5 391.8,181.2 391.6,181.8C391.4,182.4 389.1,183.1 387.8,183.7C386.6,184.2 385.3,184.9 384.1,184.9C382.8,184.9 381.4,184.5 380.3,183.7C379.3,182.8 377.4,180.9 377.9,179.9Z" fill="#fbe25a"/><path d="M347.9,184.9C348.3,183.9 349.7,183.5 350.4,183.7C351.1,183.9 351.8,184.9 352.3,186.2C352.7,187.4 352.4,189.9 352.9,191.2C353.4,192.4 355.4,192.8 355.4,193.7C355.4,194.5 353.9,195.9 352.9,196.2C351.8,196.4 350.0,195.9 349.1,194.9C348.3,193.9 348.1,191.6 347.9,189.9C347.7,188.2 347.5,186.0 347.9,184.9Z" fill="#fbe25a"/><path d="M227.8,185.6C228.0,185.4 229.1,185.8 229.7,186.2C230.3,186.6 231.0,187.4 231.6,188.1C232.1,188.8 233.0,190.0 233.1,190.6C233.1,191.1 232.3,191.7 231.8,191.5C231.4,191.2 230.9,189.7 230.3,189.0C229.8,188.2 228.9,187.8 228.4,187.2C228.0,186.6 227.6,185.8 227.8,185.6Z" fill="#fbe25a"/><path d="M254.7,193.1C255.1,192.9 257.4,193.3 257.8,193.7C258.2,194.1 257.6,195.0 257.2,195.2C256.7,195.4 255.7,195.3 255.3,194.9C254.9,194.6 254.3,193.3 254.7,193.1Z" fill="#fbe25a"/><path d="M322.8,240.0C323.8,238.8 326.2,238.9 327.8,238.1C329.5,237.3 331.3,235.8 332.8,235.0C334.4,234.2 335.7,232.9 337.2,233.1C338.6,233.3 340.2,235.3 341.6,236.2C342.9,237.2 344.5,237.7 345.3,238.7C346.1,239.8 346.8,241.2 346.6,242.5C346.3,243.7 345.1,245.5 344.1,246.2C343.0,247.0 341.8,246.6 340.3,246.9C338.9,247.1 337.0,247.6 335.3,247.5C333.7,247.4 332.0,246.2 330.3,246.2C328.7,246.2 326.7,247.7 325.3,247.5C324.0,247.3 322.6,246.2 322.2,245.0C321.8,243.7 321.9,241.1 322.8,240.0Z" fill="#ecb347"/><path d="M285.4,252.5C286.2,250.9 288.5,250.8 290.4,250.6C292.2,250.4 294.5,250.9 296.6,251.2C298.7,251.5 301.0,252.6 302.9,252.5C304.7,252.4 306.2,251.0 307.8,250.6C309.5,250.2 311.0,250.1 312.8,250.0C314.7,249.9 317.2,249.9 319.1,250.0C321.0,250.1 322.6,250.6 324.1,250.6C325.5,250.6 326.0,249.9 327.8,250.0C329.7,250.1 333.2,250.9 335.3,251.2C337.4,251.5 338.4,251.9 340.3,251.9C342.2,251.9 344.5,251.1 346.6,251.2C348.6,251.3 351.7,251.5 352.8,252.5C353.9,253.4 354.3,255.8 353.4,256.8C352.6,257.9 349.6,258.2 347.8,258.7C346.0,259.2 344.0,258.7 342.8,260.0C341.7,261.2 341.3,264.3 340.9,266.2C340.5,268.1 341.2,270.3 340.3,271.2C339.4,272.1 336.8,271.4 335.3,271.8C333.9,272.2 332.8,273.1 331.6,273.7C330.3,274.3 329.1,274.7 327.8,275.6C326.6,276.4 324.9,277.3 324.1,278.7C323.2,280.0 323.9,282.6 322.8,283.7C321.8,284.7 319.5,284.8 317.8,284.9C316.2,285.0 314.2,284.8 312.8,284.3C311.5,283.8 311.2,282.3 309.7,281.8C308.3,281.3 306.1,281.1 304.1,281.2C302.1,281.3 299.9,282.2 297.9,282.4C295.8,282.6 293.3,282.9 291.6,282.4C289.9,282.0 288.9,281.4 287.9,279.9C286.8,278.5 285.8,275.8 285.4,273.7C285.0,271.6 285.4,269.7 285.4,267.5C285.4,265.2 285.4,262.5 285.4,260.0C285.4,257.5 284.5,254.0 285.4,252.5Z" fill="#ecb347"/><path d="M343.1,276.2C343.6,275.2 345.4,274.6 346.6,274.7C347.7,274.8 349.2,275.8 349.7,276.8C350.1,277.8 349.8,279.7 349.3,280.6C348.8,281.5 347.5,282.2 346.6,282.2C345.6,282.2 344.0,281.6 343.4,280.6C342.8,279.6 342.5,277.2 343.1,276.2Z" fill="#ecb347"/><path d="M351.3,270.0C351.5,269.0 352.9,268.1 354.0,267.5C355.2,266.8 357.4,266.1 358.4,266.2C359.5,266.3 360.2,267.1 360.3,268.1C360.4,269.0 359.8,270.9 359.0,271.8C358.3,272.7 357.0,273.2 355.9,273.5C354.8,273.7 353.3,273.7 352.5,273.1C351.8,272.5 351.0,270.9 351.3,270.0Z" fill="#ecb347"/><path d="M276.6,272.5C276.9,271.3 278.2,269.1 279.1,268.7C280.1,268.3 281.6,268.9 282.3,270.0C282.9,271.0 283.2,273.8 282.9,274.9C282.6,276.1 281.3,276.7 280.4,276.8C279.4,276.9 277.9,276.3 277.3,275.6C276.6,274.8 276.3,273.6 276.6,272.5Z" fill="#ecb347"/><path d="M286.0,242.5C286.3,241.7 288.4,241.9 289.1,242.5C289.8,243.1 290.7,245.4 290.4,246.2C290.1,247.1 288.0,248.1 287.2,247.5C286.5,246.9 285.7,243.3 286.0,242.5Z" fill="#ecb347"/><path d="M311.0,240.0C311.3,238.7 313.5,238.5 314.1,239.4C314.7,240.2 315.0,243.7 314.7,245.0C314.4,246.2 312.8,247.7 312.2,246.9C311.6,246.0 310.7,241.2 311.0,240.0Z" fill="#ecb347"/><path d="M297.9,221.8C298.1,220.6 299.1,219.0 300.4,218.0C301.6,217.1 303.7,216.7 305.3,216.2C307.0,215.7 308.7,214.9 310.3,214.9C312.0,214.9 314.2,215.3 315.3,216.2C316.5,217.0 317.2,218.7 317.2,219.9C317.2,221.2 316.5,222.9 315.3,223.7C314.2,224.4 312.2,224.1 310.3,224.3C308.5,224.5 306.0,224.8 304.1,224.9C302.2,225.0 300.1,225.4 299.1,224.9C298.1,224.4 297.6,222.9 297.9,221.8Z" fill="#ecb347"/><path d="M344.7,224.0C344.4,223.1 346.5,222.2 347.5,221.3C348.4,220.4 349.1,219.3 350.2,218.6C351.2,217.8 352.5,217.2 353.8,216.8C355.2,216.3 356.8,216.2 358.4,215.9C359.9,215.5 361.5,215.0 362.9,214.5C364.3,214.1 365.3,213.3 366.5,213.1C367.7,213.0 370.0,213.0 370.2,213.4C370.3,213.9 368.4,215.0 367.4,215.9C366.5,216.7 365.2,217.6 364.3,218.6C363.3,219.6 362.7,220.7 362.0,221.8C361.2,222.8 360.5,224.0 359.7,224.9C359.0,225.9 358.4,226.7 357.4,227.2C356.5,227.7 355.2,228.2 353.8,228.1C352.5,228.1 350.8,227.7 349.3,227.0C347.8,226.4 345.0,225.0 344.7,224.0Z" fill="#ecb347"/><path d="M379.1,180.5C379.4,179.9 382.0,179.2 383.5,179.3C384.9,179.4 387.5,180.3 387.8,180.9C388.2,181.5 386.4,182.7 385.3,183.0C384.3,183.4 382.6,183.5 381.6,183.0C380.6,182.6 378.8,181.2 379.1,180.5Z" fill="#ecb347"/><path d="M286.0,267.5C286.5,266.0 288.7,265.4 289.1,263.7C289.5,262.0 287.9,259.2 288.5,257.5C289.1,255.7 291.3,253.6 292.9,253.1C294.4,252.6 296.4,253.7 297.9,254.3C299.3,255.0 300.1,256.7 301.6,256.8C303.1,256.9 305.1,255.7 306.6,255.0C308.1,254.2 308.9,252.8 310.3,252.5C311.8,252.2 313.7,252.7 315.3,253.1C317.0,253.5 318.9,254.3 320.3,255.0C321.8,255.6 322.8,256.8 324.1,256.8C325.3,256.8 326.4,255.0 327.8,255.0C329.3,255.0 331.2,256.8 332.8,256.8C334.5,256.8 336.6,254.7 337.8,255.0C339.1,255.3 339.9,257.1 340.3,258.7C340.7,260.4 340.5,263.1 340.3,265.0C340.1,266.8 340.1,268.9 339.1,270.0C338.0,271.0 335.5,270.8 334.1,271.2C332.6,271.6 331.8,272.5 330.3,272.5C328.9,272.5 326.5,270.4 325.3,271.2C324.2,272.0 324.0,275.6 323.5,277.4C322.9,279.3 323.3,281.4 322.2,282.4C321.1,283.5 318.4,283.7 316.6,283.7C314.8,283.7 312.8,283.2 311.6,282.4C310.3,281.7 310.3,279.7 309.1,279.3C307.8,278.9 306.0,279.6 304.1,279.9C302.2,280.3 299.9,281.1 297.9,281.2C295.8,281.3 293.4,281.2 291.6,280.6C289.8,279.9 288.2,278.8 287.2,277.4C286.3,276.1 286.2,274.1 286.0,272.5C285.8,270.8 285.5,268.9 286.0,267.5Z" fill="#e18c33"/><path d="M333.4,240.6C333.9,240.1 335.6,239.7 336.6,240.0C337.5,240.3 339.1,241.8 339.1,242.5C339.1,243.2 337.4,244.3 336.6,244.4C335.7,244.5 334.6,243.7 334.1,243.1C333.5,242.5 333.0,241.1 333.4,240.6Z" fill="#e18c33"/><path d="M353.4,270.0C353.7,269.4 355.2,268.7 355.9,268.7C356.6,268.7 357.7,269.6 357.8,270.2C357.9,270.8 356.9,272.1 356.3,272.5C355.7,272.8 354.5,272.6 354.0,272.2C353.6,271.8 353.1,270.5 353.4,270.0Z" fill="#e18c33"/><path d="M298.5,221.2C298.6,220.2 300.4,219.0 301.0,219.3C301.6,219.6 302.3,222.1 302.2,223.0C302.1,224.0 301.0,225.2 300.4,224.9C299.7,224.6 298.4,222.1 298.5,221.2Z" fill="#e18c33"/><path d="M316.0,194.9C315.8,194.3 317.1,192.8 317.8,191.8C318.6,190.9 319.5,189.4 320.3,189.3C321.2,189.2 322.0,191.2 322.8,191.2C323.7,191.2 324.5,189.0 325.3,189.3C326.2,189.6 327.1,191.9 327.8,193.1C328.6,194.2 329.9,195.7 329.7,196.2C329.5,196.7 327.5,196.6 326.6,196.2C325.6,195.8 324.9,194.2 324.1,193.7C323.2,193.2 322.4,192.8 321.6,193.1C320.7,193.4 320.0,195.3 319.1,195.6C318.1,195.9 316.2,195.6 316.0,194.9Z" fill="#e18c33"/><path d="M354.7,190.0C354.4,188.8 355.9,186.7 356.5,185.4C357.1,184.2 357.1,183.3 358.4,182.7C359.6,182.1 362.0,181.9 363.8,181.8C365.6,181.7 367.4,182.3 369.3,182.3C371.1,182.3 373.2,181.7 374.7,181.8C376.2,181.9 377.1,182.6 378.3,182.7C379.5,182.8 381.5,181.9 382.0,182.3C382.4,182.6 381.8,184.2 381.1,185.0C380.3,185.8 378.6,186.4 377.4,187.3C376.2,188.1 375.0,189.1 373.8,190.0C372.6,190.9 371.4,191.9 370.2,192.7C368.9,193.5 367.9,194.8 366.5,195.0C365.2,195.2 363.3,194.5 362.0,194.1C360.6,193.7 359.6,193.4 358.4,192.7C357.1,192.0 355.0,191.2 354.7,190.0Z" fill="#e18c33"/><path d="M356.5,219.0C357.0,217.8 359.6,217.2 361.1,216.3C362.6,215.5 364.3,214.5 365.6,214.1C367.0,213.6 369.1,213.2 369.3,213.6C369.4,214.0 367.4,215.4 366.5,216.3C365.6,217.2 364.7,218.1 363.8,219.0C362.9,220.0 362.0,221.5 361.1,222.2C360.2,223.0 359.1,224.1 358.4,223.6C357.6,223.1 356.1,220.3 356.5,219.0Z" fill="#e18c33"/><path d="M381.0,159.9C381.3,159.2 383.0,158.8 383.5,159.3C384.0,159.8 384.4,162.3 384.1,163.1C383.8,163.8 382.1,164.2 381.6,163.7C381.1,163.2 380.7,160.7 381.0,159.9Z" fill="#e18c33"/><path d="M287.2,274.9C287.8,273.8 290.1,272.5 291.6,271.2C293.2,270.0 294.9,268.3 296.6,267.5C298.3,266.6 300.6,267.0 301.6,266.2C302.6,265.4 301.8,263.5 302.9,262.5C303.9,261.4 306.2,260.2 307.8,260.0C309.5,259.8 311.0,260.6 312.8,261.2C314.7,261.8 317.6,262.7 319.1,263.7C320.5,264.8 321.3,266.4 321.6,267.5C321.9,268.5 322.0,269.3 321.0,270.0C319.9,270.6 317.1,270.6 315.3,271.2C313.6,271.8 310.8,272.9 310.3,273.7C309.9,274.5 311.6,275.4 312.8,276.2C314.1,277.0 316.8,277.7 317.8,278.7C318.9,279.7 319.5,281.7 319.1,282.4C318.7,283.2 316.6,283.4 315.3,283.1C314.1,282.8 312.8,281.4 311.6,280.6C310.3,279.7 309.2,278.3 307.8,278.1C306.5,277.9 305.1,278.9 303.5,279.3C301.8,279.7 299.7,280.6 297.9,280.6C296.0,280.6 293.8,279.7 292.2,279.3C290.7,278.9 289.3,278.8 288.5,278.1C287.7,277.3 286.7,276.1 287.2,274.9Z" fill="#d46520"/><path d="M325.3,258.7C326.1,257.4 328.2,257.5 329.1,258.1C329.9,258.7 330.2,260.9 330.3,262.5C330.4,264.0 330.3,266.2 329.7,267.5C329.1,268.7 327.4,270.2 326.6,270.0C325.7,269.7 324.9,268.1 324.7,266.2C324.5,264.3 324.6,260.1 325.3,258.7Z" fill="#d46520"/><path d="M335.3,255.6C335.9,254.6 337.8,255.3 338.4,256.2C339.1,257.2 339.3,259.3 339.3,261.2C339.3,263.1 339.1,266.2 338.4,267.5C337.8,268.7 335.9,269.5 335.3,268.7C334.7,267.9 334.7,264.6 334.7,262.5C334.7,260.3 334.7,256.6 335.3,255.6Z" fill="#d46520"/><path d="M316.6,194.3C316.5,193.8 317.8,192.5 318.5,191.8C319.1,191.1 319.8,190.1 320.3,190.2C320.9,190.3 321.8,191.7 321.6,192.5C321.4,193.2 319.9,194.4 319.1,194.7C318.3,195.0 316.7,194.8 316.6,194.3Z" fill="#d46520"/><path d="M349.3,225.9C349.4,225.5 351.7,224.9 352.9,224.9C354.1,224.9 355.5,225.6 356.5,225.9C357.6,226.2 359.3,226.4 359.3,226.8C359.3,227.1 357.7,228.1 356.5,228.1C355.3,228.2 353.2,227.6 352.0,227.2C350.8,226.8 349.1,226.2 349.3,225.9Z" fill="#d46520"/><path d="M291.0,275.2C291.2,273.8 292.7,272.3 294.1,271.5C295.5,270.6 297.9,269.7 299.4,270.0C300.9,270.2 302.4,271.5 303.1,272.7C303.9,273.9 304.2,275.9 303.9,277.2C303.5,278.5 302.2,279.9 301.0,280.7C299.8,281.4 298.0,281.8 296.6,281.7C295.2,281.6 293.5,281.0 292.6,279.9C291.7,278.9 290.7,276.6 291.0,275.2Z" fill="#bc3417"/><path d="M314.1,277.4C314.4,276.8 316.1,276.4 316.6,276.8C317.1,277.2 317.5,279.3 317.2,279.9C316.9,280.6 315.2,281.0 314.7,280.6C314.2,280.2 313.8,278.1 314.1,277.4Z" fill="#bc3417"/><path d="M356.5,188.2C356.2,187.3 357.0,186.3 357.4,185.4C357.9,184.6 358.2,183.7 359.3,183.2C360.3,182.7 362.1,182.6 363.8,182.5C365.5,182.5 367.6,182.9 369.3,182.9C370.9,182.9 372.6,182.3 373.8,182.5C375.0,182.7 376.4,183.4 376.5,184.1C376.7,184.8 375.6,186.0 374.7,186.8C373.8,187.6 372.2,188.3 371.1,189.1C369.9,189.8 368.9,190.6 367.9,191.4C366.8,192.1 365.7,193.4 364.7,193.6C363.7,193.8 362.9,193.2 362.0,192.7C361.1,192.2 360.2,191.2 359.3,190.4C358.4,189.7 356.8,189.0 356.5,188.2Z" fill="#bc3417"/><path d="M214.7,198.1C215.0,197.6 216.3,196.3 217.2,195.6C218.1,194.9 219.5,194.1 220.3,194.0C221.2,193.8 222.4,194.2 222.5,194.7C222.6,195.2 221.6,196.2 221.0,196.8C220.3,197.4 219.4,198.1 218.5,198.4C217.5,198.8 216.0,198.8 215.3,198.7C214.7,198.6 214.4,198.6 214.7,198.1Z" fill="#bc3417"/><path d="M235.3,186.2C235.3,185.3 237.0,183.5 237.8,183.5C238.6,183.5 240.3,185.3 240.3,186.2C240.4,187.1 238.9,188.7 238.1,188.7C237.2,188.7 235.4,187.1 235.3,186.2Z" fill="#bc3417"/><path d="M252.2,192.5C252.4,192.0 253.9,191.9 254.7,191.2C255.4,190.5 255.8,188.8 256.5,188.1C257.3,187.4 258.3,186.8 259.0,186.8C259.8,186.8 260.6,187.4 260.9,188.1C261.2,188.8 261.2,190.4 260.9,191.2C260.6,192.0 259.9,192.6 259.0,193.1C258.2,193.6 256.9,194.2 255.9,194.3C255.0,194.5 254.0,194.3 253.4,194.0C252.8,193.6 252.0,192.9 252.2,192.5Z" fill="#bc3417"/><path d="M211.5,198.1C211.5,198.2 211.4,198.5 211.2,198.6C211.1,198.7 210.9,198.8 210.7,198.8C210.5,198.8 210.3,198.7 210.2,198.6C210.1,198.5 210.0,198.2 210.0,198.1C210.0,197.9 210.1,197.7 210.2,197.5C210.3,197.4 210.5,197.3 210.7,197.3C210.9,197.3 211.1,197.4 211.2,197.5C211.4,197.7 211.5,197.9 211.5,198.1Z" fill="#e18c33"/><path d="M291.0,256.8C291.2,256.5 292.2,257.3 292.9,258.1C293.5,258.9 294.7,261.1 294.7,261.8C294.8,262.6 293.7,263.0 293.1,262.7C292.6,262.4 291.7,260.9 291.4,260.0C291.0,259.0 290.7,257.2 291.0,256.8Z" fill="#ffffff"/><path d="M314.3,255.0C314.8,254.5 316.4,254.8 317.2,255.6C318.0,256.4 319.1,259.0 319.1,260.0C319.1,260.9 317.9,261.7 317.2,261.5C316.5,261.3 315.2,259.8 314.7,258.7C314.2,257.6 313.9,255.5 314.3,255.0Z" fill="#ffffff"/><path d="M328.4,251.9C329.1,251.2 331.8,250.8 332.8,251.2C333.8,251.6 334.5,253.5 334.3,254.3C334.1,255.2 332.5,256.4 331.6,256.5C330.7,256.6 329.3,255.7 328.8,255.0C328.3,254.2 327.8,252.5 328.4,251.9Z" fill="#ffffff"/><path d="M338.4,247.5C338.7,247.0 340.4,247.1 340.9,247.5C341.5,247.9 341.8,249.5 341.6,250.0C341.3,250.5 339.8,251.0 339.3,250.6C338.8,250.2 338.2,248.0 338.4,247.5Z" fill="#ffffff"/><path d="M349.7,243.1C350.3,242.5 352.6,242.1 353.4,242.5C354.3,242.9 354.9,244.8 354.7,245.6C354.5,246.4 353.0,247.4 352.2,247.5C351.3,247.5 350.1,246.7 349.7,246.0C349.3,245.3 349.0,243.7 349.7,243.1Z" fill="#ffffff"/><path d="M284.1,279.9C284.5,279.2 286.2,280.5 287.2,281.2C288.3,281.9 290.1,283.1 290.4,283.9C290.7,284.8 290.1,286.1 289.1,286.4C288.2,286.8 285.6,287.0 284.7,285.9C283.9,284.9 283.7,280.7 284.1,279.9Z" fill="#ffffff"/><path d="M284.1,248.7C285.1,247.6 289.0,248.2 289.7,248.7C290.5,249.2 289.1,250.8 288.5,251.9C287.9,252.9 286.7,254.3 286.0,255.0C285.3,255.6 284.4,256.6 284.1,255.6C283.8,254.6 283.2,249.9 284.1,248.7Z" fill="#ffffff"/><path d="M334.1,273.1C334.8,272.5 336.6,272.3 337.8,272.5C339.1,272.6 340.8,272.8 341.6,273.7C342.3,274.6 342.6,277.0 342.2,278.1C341.8,279.1 340.2,279.7 339.1,279.9C337.9,280.2 336.3,279.9 335.3,279.3C334.4,278.7 333.7,277.2 333.4,276.2C333.2,275.2 333.3,273.7 334.1,273.1Z" fill="#ffffff"/><path d="M315.2,216.8C315.2,217.2 315.0,217.7 314.7,218.0C314.4,218.3 313.9,218.5 313.5,218.5C313.1,218.5 312.5,218.3 312.2,218.0C311.9,217.7 311.7,217.2 311.7,216.8C311.7,216.4 311.9,215.9 312.2,215.6C312.5,215.3 313.1,215.1 313.5,215.1C313.9,215.1 314.4,215.3 314.7,215.6C315.0,215.9 315.2,216.4 315.2,216.8Z" fill="#ffffff"/></g></g>
</g></g>
<g transform="translate(311.6,0)"><g clip-path="url(#frameA)">
<g stroke="#6a6a6a" stroke-width="1.0" stroke-dasharray="1.6 15.46" fill="none"><line x1="164.3" y1="296.4" x2="439.3" y2="296.4"/><line x1="164.3" y1="248.5" x2="439.3" y2="248.5"/><line x1="164.3" y1="200.6" x2="439.3" y2="200.6"/><line x1="164.3" y1="152.7" x2="439.3" y2="152.7"/><line x1="203.8" y1="344.5" x2="203.8" y2="114.4"/><line x1="283.5" y1="344.5" x2="283.5" y2="114.4"/><line x1="363.2" y1="344.5" x2="363.2" y2="114.4"/></g>
<rect x="283.5" y="248.5" width="39.9" height="38.3" fill="none" stroke="#5db562" stroke-width="1.3"/>
<g transform="translate(0,0)" fill="none" stroke-linejoin="round" stroke-linecap="round" filter="url(#blur2)"><use href="#coast"/><use href="#prov" stroke="#000" stroke-opacity="0.78" stroke-width="1.05"/><use href="#china" stroke="#000" stroke-opacity="0.74" stroke-width="1.45"/><path d="M367.9,236.8 L369.7,239.1 L369.3,241.4 L371.5,243.6 L372.9,245.2 L374.9,245.5 L372.7,246.6 L372.2,248.6 L371.8,250.6 L371.1,252.3 L370.0,254.3 L368.8,256.4 L367.4,257.9 L365.8,260.1 L364.3,262.2 L363.4,264.5" stroke="#222" stroke-width="2.0" stroke-dasharray="2.2 1.3 1.2 1.8 3 1.5"/><path d="M363.3,265.0 L362.4,268.1 L360.6,270.9 L358.4,272.7 L356.1,274.5 L353.8,276.0" stroke="#222" stroke-width="1.7" stroke-dasharray="2.2 1.6 1.2 2.1"/></g>
</g></g>
<rect x="476.4" y="114.4" width="274.0" height="229.5" fill="none" stroke="#1c1c1c" stroke-width="1.1"/><text transform="translate(469.4,349.1) scale(0.88,1)" text-anchor="end" style="font-size:13.0px">10N</text><text transform="translate(469.4,301.2) scale(0.88,1)" text-anchor="end" style="font-size:13.0px">20N</text><text transform="translate(469.4,253.3) scale(0.88,1)" text-anchor="end" style="font-size:13.0px">30N</text><text transform="translate(469.4,205.4) scale(0.88,1)" text-anchor="end" style="font-size:13.0px">40N</text><text transform="translate(469.4,157.5) scale(0.88,1)" text-anchor="end" style="font-size:13.0px">50N</text><text transform="translate(516.1,358.9) scale(0.88,1)" text-anchor="middle" style="font-size:13.0px">80E</text><text transform="translate(595.8,358.9) scale(0.88,1)" text-anchor="middle" style="font-size:13.0px">100E</text><text transform="translate(675.5,358.9) scale(0.88,1)" text-anchor="middle" style="font-size:13.0px">120E</text><path d="M472.2,344.3h4.2M472.2,296.4h4.2M472.2,248.5h4.2M472.2,200.6h4.2M472.2,152.7h4.2M515.4,343.9v3.6M595.1,343.9v3.6M674.8,343.9v3.6" stroke="#161616" stroke-width="1.2" fill="none"/><text x="476.1" y="110.9" class="tt" textLength="204.8" lengthAdjust="spacing">(b) Rainfall Anomaly Percent</text>
<path d="M525.1,362.9L489.9,368.0L525.1,373.1Z" fill="#b8321a" stroke="#222" stroke-width="1"/><rect x="525.1" y="362.9" width="35.3" height="10.2" fill="#c9471d" stroke="#222" stroke-width="1"/><rect x="560.4" y="362.9" width="35.3" height="10.2" fill="#d8702a" stroke="#222" stroke-width="1"/><rect x="595.7" y="362.9" width="35.3" height="10.2" fill="#e08f38" stroke="#222" stroke-width="1"/><rect x="631.0" y="362.9" width="35.3" height="10.2" fill="#eab348" stroke="#222" stroke-width="1"/><rect x="666.3" y="362.9" width="35.3" height="10.2" fill="#fbe25a" stroke="#222" stroke-width="1"/><path d="M701.6,362.9L736.6,368.0L701.6,373.1Z" fill="#ffffff" stroke="#222" stroke-width="1"/><text transform="translate(525.7,384.0) scale(0.97,1)" text-anchor="middle" style="font-size:10.8px">−80</text><text transform="translate(561.0,384.0) scale(0.97,1)" text-anchor="middle" style="font-size:10.8px">−70</text><text transform="translate(596.3,384.0) scale(0.97,1)" text-anchor="middle" style="font-size:10.8px">−60</text><text transform="translate(631.6,384.0) scale(0.97,1)" text-anchor="middle" style="font-size:10.8px">−50</text><text transform="translate(666.9,384.0) scale(0.97,1)" text-anchor="middle" style="font-size:10.8px">−40</text><text transform="translate(702.2,384.0) scale(0.97,1)" text-anchor="middle" style="font-size:10.8px">−30</text><text x="726.0" y="383.5" style="font-size:10.6px" textLength="15.5" lengthAdjust="spacing">(%)</text>
</g>
<g id="panel-c"><g stroke="#6a6a6a" stroke-width="1.0" stroke-dasharray="1.7 15.33" fill="none"><line x1="166.1" y1="538.6" x2="749.0" y2="538.6"/><line x1="166.1" y1="513.3" x2="749.0" y2="513.3"/><line x1="166.1" y1="488.0" x2="749.0" y2="488.0"/><line x1="166.1" y1="462.7" x2="749.0" y2="462.7"/><line x1="166.1" y1="437.4" x2="749.0" y2="437.4"/><line x1="214.4" y1="561.5" x2="214.4" y2="414.7"/><line x1="263.0" y1="561.5" x2="263.0" y2="414.7"/><line x1="311.7" y1="561.5" x2="311.7" y2="414.7"/><line x1="360.3" y1="561.5" x2="360.3" y2="414.7"/><line x1="408.9" y1="561.5" x2="408.9" y2="414.7"/><line x1="457.6" y1="561.5" x2="457.6" y2="414.7"/><line x1="506.2" y1="561.5" x2="506.2" y2="414.7"/><line x1="554.8" y1="561.5" x2="554.8" y2="414.7"/><line x1="603.4" y1="561.5" x2="603.4" y2="414.7"/><line x1="652.1" y1="561.5" x2="652.1" y2="414.7"/><line x1="700.7" y1="561.5" x2="700.7" y2="414.7"/></g><path d="M172.2,448.5h6.9V488.0h-6.9ZM182.0,483.2h6.9V488.0h-6.9ZM191.7,487.2h6.9V488.0h-6.9ZM201.4,488.0h6.9V515.6h-6.9ZM211.2,480.9h6.9V488.0h-6.9ZM220.9,488.0h6.9V509.3h-6.9ZM230.6,488.0h6.9V498.6h-6.9ZM240.3,488.0h6.9V501.4h-6.9ZM250.1,481.4h6.9V488.0h-6.9ZM259.8,488.0h6.9V500.6h-6.9ZM269.5,465.0h6.9V488.0h-6.9ZM279.2,488.0h6.9V520.6h-6.9ZM289.0,455.6h6.9V488.0h-6.9ZM298.7,484.2h6.9V488.0h-6.9ZM308.4,426.5h6.9V488.0h-6.9ZM318.1,488.0h6.9V499.4h-6.9ZM327.9,469.5h6.9V488.0h-6.9ZM337.6,474.1h6.9V488.0h-6.9ZM347.3,488.0h6.9V502.4h-6.9ZM357.0,488.0h6.9V497.6h-6.9ZM366.8,488.0h6.9V499.9h-6.9ZM376.5,434.6h6.9V488.0h-6.9ZM386.2,471.3h6.9V488.0h-6.9ZM395.9,488.0h6.9V510.3h-6.9ZM405.7,485.2h6.9V488.0h-6.9ZM415.4,465.5h6.9V488.0h-6.9ZM425.1,470.3h6.9V488.0h-6.9ZM434.8,467.0h6.9V488.0h-6.9ZM444.6,488.0h6.9V496.9h-6.9ZM454.3,488.0h6.9V495.8h-6.9ZM464.0,488.0h6.9V493.3h-6.9ZM473.8,436.9h6.9V488.0h-6.9ZM483.5,444.0h6.9V488.0h-6.9ZM493.2,488.0h6.9V511.8h-6.9ZM502.9,481.2h6.9V488.0h-6.9ZM512.7,473.1h6.9V488.0h-6.9ZM522.4,465.0h6.9V488.0h-6.9ZM532.1,488.0h6.9V496.9h-6.9ZM541.8,488.0h6.9V499.1h-6.9ZM551.6,469.5h6.9V488.0h-6.9ZM561.3,488.0h6.9V494.3h-6.9ZM571.0,488.0h6.9V523.9h-6.9ZM580.7,488.0h6.9V490.0h-6.9ZM590.5,470.0h6.9V488.0h-6.9ZM600.2,479.9h6.9V488.0h-6.9ZM609.9,488.0h6.9V511.5h-6.9ZM619.6,479.1h6.9V488.0h-6.9ZM629.4,488.0h6.9V535.3h-6.9ZM639.1,469.5h6.9V488.0h-6.9ZM648.8,487.7h6.9V488.0h-6.9ZM658.5,483.2h6.9V488.0h-6.9ZM668.3,488.0h6.9V521.1h-6.9ZM678.0,488.0h6.9V525.4h-6.9ZM687.7,488.0h6.9V515.8h-6.9ZM697.5,488.0h6.9V521.6h-6.9ZM707.2,488.0h6.9V492.8h-6.9ZM716.9,488.0h6.9V512.8h-6.9ZM726.6,458.4h6.9V488.0h-6.9ZM736.4,488.0h6.9V552.3h-6.9Z" fill="#000"/><rect x="166.6" y="414.7" width="582.4" height="146.8" fill="none" stroke="#1c1c1c" stroke-width="1.2"/><text x="160.0" y="543.2" text-anchor="end" style="font-size:12.6px">−2</text><text x="160.0" y="517.9" text-anchor="end" style="font-size:12.6px">−1</text><text x="160.0" y="492.6" text-anchor="end" style="font-size:12.6px">0</text><text x="160.0" y="467.3" text-anchor="end" style="font-size:12.6px">1</text><text x="160.0" y="442.0" text-anchor="end" style="font-size:12.6px">2</text><text x="214.4" y="576.8" text-anchor="middle" style="font-size:12.6px">1955</text><text x="263.0" y="576.8" text-anchor="middle" style="font-size:12.6px">1960</text><text x="311.7" y="576.8" text-anchor="middle" style="font-size:12.6px">1965</text><text x="360.3" y="576.8" text-anchor="middle" style="font-size:12.6px">1970</text><text x="408.9" y="576.8" text-anchor="middle" style="font-size:12.6px">1975</text><text x="457.6" y="576.8" text-anchor="middle" style="font-size:12.6px">1980</text><text x="506.2" y="576.8" text-anchor="middle" style="font-size:12.6px">1985</text><text x="554.8" y="576.8" text-anchor="middle" style="font-size:12.6px">1990</text><text x="603.4" y="576.8" text-anchor="middle" style="font-size:12.6px">1995</text><text x="652.1" y="576.8" text-anchor="middle" style="font-size:12.6px">2000</text><text x="700.7" y="576.8" text-anchor="middle" style="font-size:12.6px">2005</text><path d="M163.0,538.6h3.6M163.0,513.3h3.6M163.0,488.0h3.6M163.0,462.7h3.6M163.0,437.4h3.6M214.4,561.5v3.8M263.0,561.5v3.8M311.7,561.5v3.8M360.3,561.5v3.8M408.9,561.5v3.8M457.6,561.5v3.8M506.2,561.5v3.8M554.8,561.5v3.8M603.4,561.5v3.8M652.1,561.5v3.8M700.7,561.5v3.8" stroke="#111" stroke-width="1.2" fill="none"/><text transform="translate(743.6,583.2) rotate(-90)" style="font-size:12.6px;fill:#c8452f;stroke:#c8452f">2009</text><text x="166.6" y="411.6" class="tt" textLength="524" lengthAdjust="spacing">(c) Standard Rainfall Anomaly in Southwest China (22°−30°N,100°−110°E)</text></g>
</svg>
<div class="bl" id="b0_0" style="left:81.30px;top:671px;word-spacing:1.193px;">Prediction Center (CPC). Numerous efforts have been</div>
<div class="bl" id="b0_1" style="left:81.30px;top:689px;word-spacing:2.355px;">made to explore possible ENSO impacts on the East</div>
<div class="bl" id="b0_2" style="left:81.30px;top:708px;word-spacing:2.986px;">Asian climate (e.g., Zhang et al. 1996; Chang et al.</div>
<div class="bl" id="b0_3" style="left:81.30px;top:727px;word-spacing:0.533px;">2000a,b; B. Wang et al. 2000, 2008; Wu and Hu 2003;</div>
<div class="bl" id="b0_4" style="left:81.30px;top:745px;word-spacing:0.632px;">Niu and Li 2008; L. Wang et al. 2008; Wu et al. 2009;</div>
<div class="bl" id="b0_5" style="left:81.30px;top:764px;word-spacing:1.075px;">Li et al. 2010, 2011a,b; Wu et al. 2012). These efforts</div>
<div class="bl" id="b0_6" style="left:81.30px;top:782px;word-spacing:1.116px;">were often focused on the conventional (or canonical)</div>
<div class="bl" id="b0_7" style="left:81.30px;top:801px;word-spacing:3.125px;">El Niño events, with the warm SSTA center mainly</div>
<div class="bl" id="b0_8" style="left:81.30px;top:819px;word-spacing:3.888px;">located over the east equatorial Pacific (Rasmusson</div>
<div class="bl" id="b0_9" style="left:81.30px;top:838px;word-spacing:-0.303px;">and Carpenter 1982; Wallace et al. 1998). However, the</div>
<div class="bl" id="b0_10" style="left:81.30px;top:857px;word-spacing:2.678px;">warming of the SSTA during autumn 2009, in sharp</div>
<div class="bl" id="b0_11" style="left:81.30px;top:875px;word-spacing:-0.862px;">contrast with conventional El Niño events, shifted west-</div>
<div class="bl" id="b0_12" style="left:81.30px;top:894px;word-spacing:2.139px;">ward toward the warm pool rim (Lee and McPhaden</div>
<div class="bl" id="b0_13" style="left:81.30px;top:912px;word-spacing:-0.433px;">2010). The consensus reached by earlier studies defines</div>
<div class="bl" id="b0_14" style="left:81.30px;top:931px;word-spacing:-1.200px;letter-spacing:-0.147px;">this tropical Pacific phenomenon as a new type of El Niño</div>
<div class="bl" id="b0_15" style="left:81.30px;top:949px;word-spacing:0.184px;">(Larkin and Harrison 2005a; Ashok et al. 2007; Yu and</div>
<div class="bl" id="b0_16" style="left:81.30px;top:968px;word-spacing:-0.345px;">Kao 2007; Kao and Yu 2009; Kug et al. 2009; Yeh et al.</div>
<div class="bl" id="b0_17" style="left:81.30px;top:987px;">2009).</div>
<div class="bl" id="b0_18" style="left:96.80px;top:1005px;word-spacing:1.056px;">Larkin and Harrison (2005a) identified a number of</div>
<div class="bl" id="b0_19" style="left:81.30px;top:1024px;word-spacing:0.622px;">these new type of El Niño events using a new El Niño</div>
<div class="bl" id="b0_20" style="left:81.30px;top:1042px;word-spacing:0.628px;">definition from the National Oceanic and Atmospheric</div>
<div class="bl" id="b0_21" style="left:81.30px;top:1061px;word-spacing:2.305px;">Administration (NOAA), and refer to them as a date</div>
<div class="bl" id="b1_0" style="left:453.30px;top:671px;word-spacing:-1.071px;">line El Niño because the maximum SSTA is located near</div>
<div class="bl" id="b1_1" style="left:453.30px;top:689px;word-spacing:2.550px;">the date line. The new type of El Niño may also be</div>
<div class="bl" id="b1_2" style="left:453.30px;top:708px;word-spacing:1.964px;">defined according to the second empirical orthogonal</div>
<div class="bl" id="b1_3" style="left:453.30px;top:727px;word-spacing:5.295px;">function (EOF) mode and called El Niño Modoki</div>
<div class="bl" id="b1_4" style="left:453.30px;top:745px;word-spacing:0.525px;">(Ashok et al. 2007). Kao and Yu (2009) referred to the</div>
<div class="bl" id="b1_5" style="left:453.30px;top:764px;word-spacing:-0.304px;">new type of El Niño as the central Pacific El Niño. Kug</div>
<div class="bl" id="b1_6" style="left:453.30px;top:782px;word-spacing:0.867px;">et al. (2009) separated the new type of El Niño events</div>
<div class="bl" id="b1_7" style="left:453.30px;top:801px;word-spacing:-1.200px;letter-spacing:-0.113px;">from the conventional El Niño events based on the spatial</div>
<div class="bl" id="b1_8" style="left:453.30px;top:819px;word-spacing:-1.186px;">patterns of the SSTA and named them a warm pool (WP)</div>
<div class="bl" id="b1_9" style="left:453.30px;top:838px;word-spacing:-0.205px;">El Niño. Many studies have shown that the new type of</div>
<div class="bl" id="b1_10" style="left:453.30px;top:857px;word-spacing:0.066px;">El Niño has a different influence on atmospheric circu-</div>
<div class="bl" id="b1_11" style="left:453.30px;top:875px;word-spacing:2.379px;">lation compared to the conventional El Niño (Larkin</div>
<div class="bl" id="b1_12" style="left:453.30px;top:894px;word-spacing:0.984px;">and Harrison 2005a,b; Wang and Hendon 2007; Weng</div>
<div class="bl" id="b1_13" style="left:453.30px;top:912px;word-spacing:-0.875px;">et al. 2007, 2009; Cai and Cowan 2009; Kim et al. 2009;</div>
<div class="bl" id="b1_14" style="left:453.30px;top:931px;word-spacing:-0.773px;">Taschetto and England 2009; Chen and Tam 2010; Feng</div>
<div class="bl" id="b1_15" style="left:453.30px;top:949px;word-spacing:-0.826px;">et al. 2010; Mo 2010; Feng and Li 2011; Lee et al. 2010;</div>
<div class="bl" id="b1_16" style="left:453.30px;top:968px;word-spacing:-1.200px;letter-spacing:-0.108px;">Zhang et al. 2011; Wang and Wang 2013; Xie et al. 2012).</div>
<div class="bl" id="b1_17" style="left:453.30px;top:987px;word-spacing:-1.200px;letter-spacing:-0.095px;">Despite the variety of names and definitions used in these</div>
<div class="bl" id="b1_18" style="left:453.30px;top:1005px;word-spacing:1.344px;">studies, an emphasis was placed on the difference be-</div>
<div class="bl" id="b1_19" style="left:453.30px;top:1024px;word-spacing:0.763px;">tween the two types of El Niño. In this paper, the new</div>
<div class="bl" id="b1_20" style="left:453.30px;top:1042px;word-spacing:1.238px;">type of El Niño is referred to as the WP El Niño, fol-</div>
<div class="bl" id="b1_21" style="left:453.30px;top:1061px;word-spacing:0.192px;">lowing Kug et al. (2009) and Ren and Jin (2011).</div>
<div class="cl" id="c0" style="left:148.40px;top:593px;word-spacing:0.401px;"><span class="sc">F<span class="scs">IG</span></span>. 1. (a) Climatology (1961–90) of total rainfall (mm) in autumn, (b) autumn rainfall anomaly in 2009 compared</div>
<div class="cl" id="c1" style="left:136.20px;top:608px;word-spacing:2.251px;">with climatology (%), and (c) time series of standard rainfall anomalies over southwest China (22<span class="dg">°</span>–30<span class="dg">°</span>N, 100<span class="dg">°</span>–</div>
<div class="cl" id="c2" style="left:136.20px;top:624px;word-spacing:1.072px;">110<span class="dg">°</span>E), indicated by the blue box in (b).</div>
</body></html>
